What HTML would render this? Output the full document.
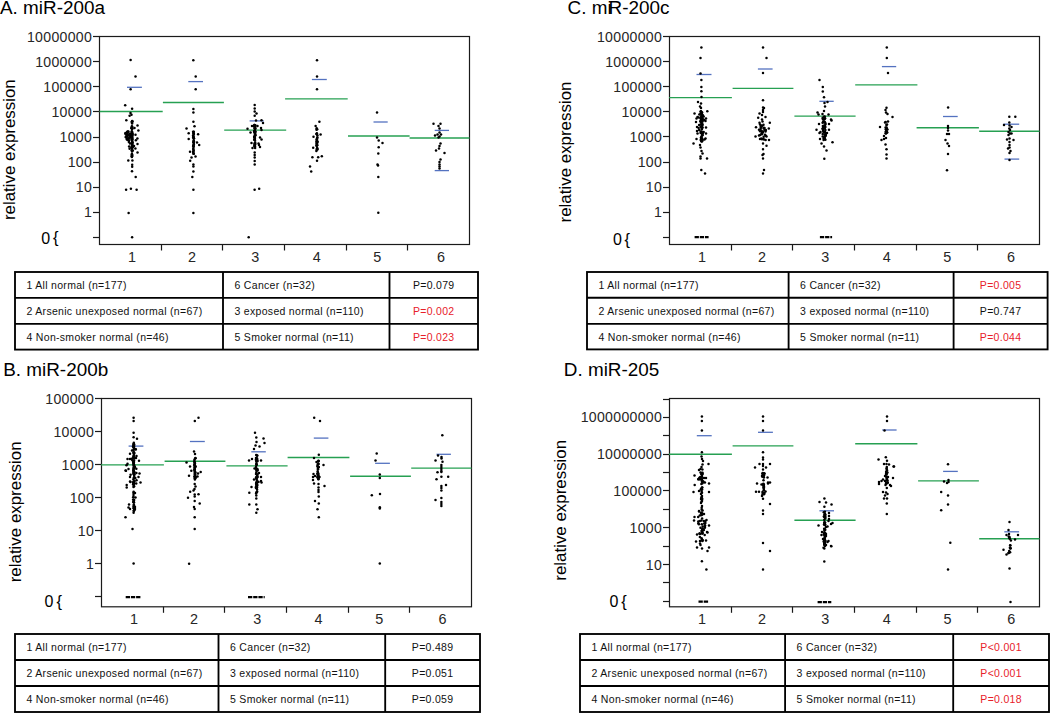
<!DOCTYPE html>
<html><head><meta charset="utf-8"><style>
html,body{margin:0;padding:0;background:#fff;}
svg{display:block;font-family:"Liberation Sans", sans-serif;}
</style></head><body>
<svg width="1050" height="713" viewBox="0 0 1050 713">
<rect width="1050" height="713" fill="#fff"/>
<text x="0" y="14.3" font-size="18.9" fill="#000">A. miR-200a</text>
<text transform="translate(15.1,149.65) rotate(-90)" text-anchor="middle" font-size="16.9" fill="#000">relative expression</text>
<rect x="99.5" y="36.5" width="370.0" height="208.0" fill="none" stroke="#1a1a1a" stroke-width="1.2"/>
<line x1="93.0" y1="212.50" x2="99.5" y2="212.50" stroke="#1a1a1a" stroke-width="1.2"/>
<text x="92.1" y="217.40" text-anchor="end" font-size="14.1" letter-spacing="0.3" fill="#262626">1</text>
<line x1="93.0" y1="187.50" x2="99.5" y2="187.50" stroke="#1a1a1a" stroke-width="1.2"/>
<text x="92.1" y="192.30" text-anchor="end" font-size="14.1" letter-spacing="0.3" fill="#262626">10</text>
<line x1="93.0" y1="162.50" x2="99.5" y2="162.50" stroke="#1a1a1a" stroke-width="1.2"/>
<text x="92.1" y="167.20" text-anchor="end" font-size="14.1" letter-spacing="0.3" fill="#262626">100</text>
<line x1="93.0" y1="137.50" x2="99.5" y2="137.50" stroke="#1a1a1a" stroke-width="1.2"/>
<text x="92.1" y="142.10" text-anchor="end" font-size="14.1" letter-spacing="0.3" fill="#262626">1000</text>
<line x1="93.0" y1="111.50" x2="99.5" y2="111.50" stroke="#1a1a1a" stroke-width="1.2"/>
<text x="92.1" y="117.00" text-anchor="end" font-size="14.1" letter-spacing="0.3" fill="#262626">10000</text>
<line x1="93.0" y1="86.50" x2="99.5" y2="86.50" stroke="#1a1a1a" stroke-width="1.2"/>
<text x="92.1" y="91.90" text-anchor="end" font-size="14.1" letter-spacing="0.3" fill="#262626">100000</text>
<line x1="93.0" y1="61.50" x2="99.5" y2="61.50" stroke="#1a1a1a" stroke-width="1.2"/>
<text x="92.1" y="66.80" text-anchor="end" font-size="14.1" letter-spacing="0.3" fill="#262626">1000000</text>
<line x1="93.0" y1="36.50" x2="99.5" y2="36.50" stroke="#1a1a1a" stroke-width="1.2"/>
<text x="92.1" y="41.70" text-anchor="end" font-size="14.1" letter-spacing="0.3" fill="#262626">10000000</text>
<line x1="93.0" y1="237.50" x2="99.5" y2="237.50" stroke="#1a1a1a" stroke-width="1.2"/>
<text x="41.20" y="243.6" font-size="16" fill="#000">0</text>
<text x="53.10" y="243.1" font-size="16.5" fill="#000">{</text>
<line x1="161.50" y1="244.5" x2="161.50" y2="250.5" stroke="#1a1a1a" stroke-width="1.2"/>
<line x1="222.50" y1="244.5" x2="222.50" y2="250.5" stroke="#1a1a1a" stroke-width="1.2"/>
<line x1="284.50" y1="244.5" x2="284.50" y2="250.5" stroke="#1a1a1a" stroke-width="1.2"/>
<line x1="346.50" y1="244.5" x2="346.50" y2="250.5" stroke="#1a1a1a" stroke-width="1.2"/>
<line x1="407.50" y1="244.5" x2="407.50" y2="250.5" stroke="#1a1a1a" stroke-width="1.2"/>
<text x="132.00" y="261.50" text-anchor="middle" font-size="14.4" fill="#262626">1</text>
<text x="192.10" y="261.50" text-anchor="middle" font-size="14.4" fill="#262626">2</text>
<text x="255.20" y="261.50" text-anchor="middle" font-size="14.4" fill="#262626">3</text>
<text x="316.80" y="261.50" text-anchor="middle" font-size="14.4" fill="#262626">4</text>
<text x="377.20" y="261.50" text-anchor="middle" font-size="14.4" fill="#262626">5</text>
<text x="440.90" y="261.50" text-anchor="middle" font-size="14.4" fill="#262626">6</text>
<text x="567.6" y="14.3" font-size="18.9" fill="#000">C. m<tspan>i</tspan><tspan dx="-3.2">R-200c</tspan></text>
<text transform="translate(570.7,152.0) rotate(-90)" text-anchor="middle" font-size="16.9" fill="#000">relative expression</text>
<rect x="669.5" y="36.5" width="370.0" height="208.0" fill="none" stroke="#1a1a1a" stroke-width="1.2"/>
<line x1="663.0" y1="212.50" x2="669.5" y2="212.50" stroke="#1a1a1a" stroke-width="1.2"/>
<text x="662.1" y="217.30" text-anchor="end" font-size="14.1" letter-spacing="0.3" fill="#262626">1</text>
<line x1="663.0" y1="187.50" x2="669.5" y2="187.50" stroke="#1a1a1a" stroke-width="1.2"/>
<text x="662.1" y="192.20" text-anchor="end" font-size="14.1" letter-spacing="0.3" fill="#262626">10</text>
<line x1="663.0" y1="162.50" x2="669.5" y2="162.50" stroke="#1a1a1a" stroke-width="1.2"/>
<text x="662.1" y="167.10" text-anchor="end" font-size="14.1" letter-spacing="0.3" fill="#262626">100</text>
<line x1="663.0" y1="136.50" x2="669.5" y2="136.50" stroke="#1a1a1a" stroke-width="1.2"/>
<text x="662.1" y="142.00" text-anchor="end" font-size="14.1" letter-spacing="0.3" fill="#262626">1000</text>
<line x1="663.0" y1="111.50" x2="669.5" y2="111.50" stroke="#1a1a1a" stroke-width="1.2"/>
<text x="662.1" y="116.90" text-anchor="end" font-size="14.1" letter-spacing="0.3" fill="#262626">10000</text>
<line x1="663.0" y1="86.50" x2="669.5" y2="86.50" stroke="#1a1a1a" stroke-width="1.2"/>
<text x="662.1" y="91.80" text-anchor="end" font-size="14.1" letter-spacing="0.3" fill="#262626">100000</text>
<line x1="663.0" y1="61.50" x2="669.5" y2="61.50" stroke="#1a1a1a" stroke-width="1.2"/>
<text x="662.1" y="66.70" text-anchor="end" font-size="14.1" letter-spacing="0.3" fill="#262626">1000000</text>
<line x1="663.0" y1="36.50" x2="669.5" y2="36.50" stroke="#1a1a1a" stroke-width="1.2"/>
<text x="662.1" y="41.60" text-anchor="end" font-size="14.1" letter-spacing="0.3" fill="#262626">10000000</text>
<line x1="663.0" y1="237.50" x2="669.5" y2="237.50" stroke="#1a1a1a" stroke-width="1.2"/>
<text x="613.00" y="245.4" font-size="16" fill="#000">0</text>
<text x="624.60" y="244.9" font-size="16.5" fill="#000">{</text>
<line x1="731.50" y1="244.5" x2="731.50" y2="250.5" stroke="#1a1a1a" stroke-width="1.2"/>
<line x1="792.50" y1="244.5" x2="792.50" y2="250.5" stroke="#1a1a1a" stroke-width="1.2"/>
<line x1="854.50" y1="244.5" x2="854.50" y2="250.5" stroke="#1a1a1a" stroke-width="1.2"/>
<line x1="916.50" y1="244.5" x2="916.50" y2="250.5" stroke="#1a1a1a" stroke-width="1.2"/>
<line x1="977.50" y1="244.5" x2="977.50" y2="250.5" stroke="#1a1a1a" stroke-width="1.2"/>
<text x="702.00" y="261.50" text-anchor="middle" font-size="14.4" fill="#262626">1</text>
<text x="762.10" y="261.50" text-anchor="middle" font-size="14.4" fill="#262626">2</text>
<text x="825.20" y="261.50" text-anchor="middle" font-size="14.4" fill="#262626">3</text>
<text x="886.80" y="261.50" text-anchor="middle" font-size="14.4" fill="#262626">4</text>
<text x="947.30" y="261.50" text-anchor="middle" font-size="14.4" fill="#262626">5</text>
<text x="1011.10" y="261.50" text-anchor="middle" font-size="14.4" fill="#262626">6</text>
<text x="3.2" y="376.0" font-size="18.9" fill="#000">B. miR-200b</text>
<text transform="translate(20.9,511.85) rotate(-90)" text-anchor="middle" font-size="16.9" fill="#000">relative expression</text>
<rect x="101.5" y="398.5" width="370.0" height="208.29999999999995" fill="none" stroke="#1a1a1a" stroke-width="1.2"/>
<line x1="95.0" y1="563.50" x2="101.5" y2="563.50" stroke="#1a1a1a" stroke-width="1.2"/>
<text x="94.1" y="568.80" text-anchor="end" font-size="14.1" letter-spacing="0.3" fill="#262626">1</text>
<line x1="95.0" y1="530.50" x2="101.5" y2="530.50" stroke="#1a1a1a" stroke-width="1.2"/>
<text x="94.1" y="535.75" text-anchor="end" font-size="14.1" letter-spacing="0.3" fill="#262626">10</text>
<line x1="95.0" y1="497.50" x2="101.5" y2="497.50" stroke="#1a1a1a" stroke-width="1.2"/>
<text x="94.1" y="502.70" text-anchor="end" font-size="14.1" letter-spacing="0.3" fill="#262626">100</text>
<line x1="95.0" y1="464.50" x2="101.5" y2="464.50" stroke="#1a1a1a" stroke-width="1.2"/>
<text x="94.1" y="469.65" text-anchor="end" font-size="14.1" letter-spacing="0.3" fill="#262626">1000</text>
<line x1="95.0" y1="431.50" x2="101.5" y2="431.50" stroke="#1a1a1a" stroke-width="1.2"/>
<text x="94.1" y="436.60" text-anchor="end" font-size="14.1" letter-spacing="0.3" fill="#262626">10000</text>
<line x1="95.0" y1="398.50" x2="101.5" y2="398.50" stroke="#1a1a1a" stroke-width="1.2"/>
<text x="94.1" y="403.55" text-anchor="end" font-size="14.1" letter-spacing="0.3" fill="#262626">100000</text>
<line x1="95.0" y1="596.50" x2="101.5" y2="596.50" stroke="#1a1a1a" stroke-width="1.2"/>
<text x="44.60" y="607.4" font-size="16" fill="#000">0</text>
<text x="56.40" y="606.9" font-size="16.5" fill="#000">{</text>
<line x1="163.50" y1="606.8" x2="163.50" y2="612.8" stroke="#1a1a1a" stroke-width="1.2"/>
<line x1="224.50" y1="606.8" x2="224.50" y2="612.8" stroke="#1a1a1a" stroke-width="1.2"/>
<line x1="286.50" y1="606.8" x2="286.50" y2="612.8" stroke="#1a1a1a" stroke-width="1.2"/>
<line x1="348.50" y1="606.8" x2="348.50" y2="612.8" stroke="#1a1a1a" stroke-width="1.2"/>
<line x1="409.50" y1="606.8" x2="409.50" y2="612.8" stroke="#1a1a1a" stroke-width="1.2"/>
<text x="133.90" y="624.00" text-anchor="middle" font-size="14.4" fill="#262626">1</text>
<text x="194.10" y="624.00" text-anchor="middle" font-size="14.4" fill="#262626">2</text>
<text x="257.30" y="624.00" text-anchor="middle" font-size="14.4" fill="#262626">3</text>
<text x="318.60" y="624.00" text-anchor="middle" font-size="14.4" fill="#262626">4</text>
<text x="379.20" y="624.00" text-anchor="middle" font-size="14.4" fill="#262626">5</text>
<text x="442.40" y="624.00" text-anchor="middle" font-size="14.4" fill="#262626">6</text>
<text x="563.8" y="375.6" font-size="18.9" fill="#000">D. miR-205</text>
<text transform="translate(565.7,510.3) rotate(-90)" text-anchor="middle" font-size="16.9" fill="#000">relative expression</text>
<rect x="669.5" y="398.5" width="370.0" height="208.29999999999995" fill="none" stroke="#1a1a1a" stroke-width="1.2"/>
<line x1="663.0" y1="582.50" x2="669.5" y2="582.50" stroke="#1a1a1a" stroke-width="1.2"/>
<line x1="663.0" y1="564.50" x2="669.5" y2="564.50" stroke="#1a1a1a" stroke-width="1.2"/>
<text x="662.1" y="569.61" text-anchor="end" font-size="14.1" letter-spacing="0.3" fill="#262626">10</text>
<line x1="663.0" y1="546.50" x2="669.5" y2="546.50" stroke="#1a1a1a" stroke-width="1.2"/>
<line x1="663.0" y1="527.50" x2="669.5" y2="527.50" stroke="#1a1a1a" stroke-width="1.2"/>
<text x="662.1" y="532.83" text-anchor="end" font-size="14.1" letter-spacing="0.3" fill="#262626">1000</text>
<line x1="663.0" y1="509.50" x2="669.5" y2="509.50" stroke="#1a1a1a" stroke-width="1.2"/>
<line x1="663.0" y1="490.50" x2="669.5" y2="490.50" stroke="#1a1a1a" stroke-width="1.2"/>
<text x="662.1" y="496.05" text-anchor="end" font-size="14.1" letter-spacing="0.3" fill="#262626">100000</text>
<line x1="663.0" y1="472.50" x2="669.5" y2="472.50" stroke="#1a1a1a" stroke-width="1.2"/>
<line x1="663.0" y1="454.50" x2="669.5" y2="454.50" stroke="#1a1a1a" stroke-width="1.2"/>
<text x="662.1" y="459.27" text-anchor="end" font-size="14.1" letter-spacing="0.3" fill="#262626">10000000</text>
<line x1="663.0" y1="435.50" x2="669.5" y2="435.50" stroke="#1a1a1a" stroke-width="1.2"/>
<line x1="663.0" y1="417.50" x2="669.5" y2="417.50" stroke="#1a1a1a" stroke-width="1.2"/>
<text x="662.1" y="422.49" text-anchor="end" font-size="14.1" letter-spacing="0.3" fill="#262626">1000000000</text>
<line x1="663.0" y1="399.50" x2="669.5" y2="399.50" stroke="#1a1a1a" stroke-width="1.2"/>
<line x1="663.0" y1="601.50" x2="669.5" y2="601.50" stroke="#1a1a1a" stroke-width="1.2"/>
<text x="609.40" y="607.4" font-size="16" fill="#000">0</text>
<text x="621.20" y="606.9" font-size="16.5" fill="#000">{</text>
<line x1="731.50" y1="606.8" x2="731.50" y2="612.8" stroke="#1a1a1a" stroke-width="1.2"/>
<line x1="792.50" y1="606.8" x2="792.50" y2="612.8" stroke="#1a1a1a" stroke-width="1.2"/>
<line x1="854.50" y1="606.8" x2="854.50" y2="612.8" stroke="#1a1a1a" stroke-width="1.2"/>
<line x1="916.50" y1="606.8" x2="916.50" y2="612.8" stroke="#1a1a1a" stroke-width="1.2"/>
<line x1="977.50" y1="606.8" x2="977.50" y2="612.8" stroke="#1a1a1a" stroke-width="1.2"/>
<text x="702.00" y="624.00" text-anchor="middle" font-size="14.4" fill="#262626">1</text>
<text x="762.10" y="624.00" text-anchor="middle" font-size="14.4" fill="#262626">2</text>
<text x="825.30" y="624.00" text-anchor="middle" font-size="14.4" fill="#262626">3</text>
<text x="886.80" y="624.00" text-anchor="middle" font-size="14.4" fill="#262626">4</text>
<text x="947.40" y="624.00" text-anchor="middle" font-size="14.4" fill="#262626">5</text>
<text x="1011.20" y="624.00" text-anchor="middle" font-size="14.4" fill="#262626">6</text>
<rect x="15.0" y="272.0" width="463.00" height="77.60" fill="none" stroke="#000" stroke-width="1.85"/>
<line x1="15.0" y1="297.8" x2="478.0" y2="297.8" stroke="#000" stroke-width="1.85"/>
<line x1="15.0" y1="323.9" x2="478.0" y2="323.9" stroke="#000" stroke-width="1.85"/>
<line x1="223.0" y1="272.0" x2="223.0" y2="349.6" stroke="#000" stroke-width="1.85"/>
<line x1="389.5" y1="272.0" x2="389.5" y2="349.6" stroke="#000" stroke-width="1.85"/>
<text x="26.5" y="289.20" font-size="10.5" letter-spacing="0.3" fill="#111">1 All normal (n=177)</text>
<text x="234.5" y="289.20" font-size="10.5" letter-spacing="0.3" fill="#111">6 Cancer (n=32)</text>
<text x="433.75" y="289.20" text-anchor="middle" font-size="10.5" letter-spacing="0.3" fill="#111">P=0.079</text>
<text x="26.5" y="315.00" font-size="10.5" letter-spacing="0.3" fill="#111">2 Arsenic unexposed normal (n=67)</text>
<text x="234.5" y="315.00" font-size="10.5" letter-spacing="0.3" fill="#111">3 exposed normal (n=110)</text>
<text x="433.75" y="315.00" text-anchor="middle" font-size="10.5" letter-spacing="0.3" fill="#e8202a">P=0.002</text>
<text x="26.5" y="341.10" font-size="10.5" letter-spacing="0.3" fill="#111">4 Non-smoker normal (n=46)</text>
<text x="234.5" y="341.10" font-size="10.5" letter-spacing="0.3" fill="#111">5 Smoker normal (n=11)</text>
<text x="433.75" y="341.10" text-anchor="middle" font-size="10.5" letter-spacing="0.3" fill="#e8202a">P=0.023</text>
<rect x="587.0" y="272.0" width="460.60" height="77.40" fill="none" stroke="#000" stroke-width="1.85"/>
<line x1="587.0" y1="297.7" x2="1047.6" y2="297.7" stroke="#000" stroke-width="1.85"/>
<line x1="587.0" y1="323.8" x2="1047.6" y2="323.8" stroke="#000" stroke-width="1.85"/>
<line x1="788.6" y1="272.0" x2="788.6" y2="349.4" stroke="#000" stroke-width="1.85"/>
<line x1="953.6" y1="272.0" x2="953.6" y2="349.4" stroke="#000" stroke-width="1.85"/>
<text x="598.5" y="289.20" font-size="10.5" letter-spacing="0.3" fill="#111">1 All normal (n=177)</text>
<text x="800.1" y="289.20" font-size="10.5" letter-spacing="0.3" fill="#111">6 Cancer (n=32)</text>
<text x="1000.60" y="289.20" text-anchor="middle" font-size="10.5" letter-spacing="0.3" fill="#e8202a">P=0.005</text>
<text x="598.5" y="314.90" font-size="10.5" letter-spacing="0.3" fill="#111">2 Arsenic unexposed normal (n=67)</text>
<text x="800.1" y="314.90" font-size="10.5" letter-spacing="0.3" fill="#111">3 exposed normal (n=110)</text>
<text x="1000.60" y="314.90" text-anchor="middle" font-size="10.5" letter-spacing="0.3" fill="#111">P=0.747</text>
<text x="598.5" y="341.00" font-size="10.5" letter-spacing="0.3" fill="#111">4 Non-smoker normal (n=46)</text>
<text x="800.1" y="341.00" font-size="10.5" letter-spacing="0.3" fill="#111">5 Smoker normal (n=11)</text>
<text x="1000.60" y="341.00" text-anchor="middle" font-size="10.5" letter-spacing="0.3" fill="#e8202a">P=0.044</text>
<rect x="15.0" y="634.0" width="465.00" height="78.00" fill="none" stroke="#000" stroke-width="1.85"/>
<line x1="15.0" y1="660.0" x2="480.0" y2="660.0" stroke="#000" stroke-width="1.85"/>
<line x1="15.0" y1="686.0" x2="480.0" y2="686.0" stroke="#000" stroke-width="1.85"/>
<line x1="218.5" y1="634.0" x2="218.5" y2="712.0" stroke="#000" stroke-width="1.85"/>
<line x1="385.2" y1="634.0" x2="385.2" y2="712.0" stroke="#000" stroke-width="1.85"/>
<text x="26.5" y="651.20" font-size="10.5" letter-spacing="0.3" fill="#111">1 All normal (n=177)</text>
<text x="230.0" y="651.20" font-size="10.5" letter-spacing="0.3" fill="#111">6 Cancer (n=32)</text>
<text x="432.60" y="651.20" text-anchor="middle" font-size="10.5" letter-spacing="0.3" fill="#111">P=0.489</text>
<text x="26.5" y="677.20" font-size="10.5" letter-spacing="0.3" fill="#111">2 Arsenic unexposed normal (n=67)</text>
<text x="230.0" y="677.20" font-size="10.5" letter-spacing="0.3" fill="#111">3 exposed normal (n=110)</text>
<text x="432.60" y="677.20" text-anchor="middle" font-size="10.5" letter-spacing="0.3" fill="#111">P=0.051</text>
<text x="26.5" y="703.20" font-size="10.5" letter-spacing="0.3" fill="#111">4 Non-smoker normal (n=46)</text>
<text x="230.0" y="703.20" font-size="10.5" letter-spacing="0.3" fill="#111">5 Smoker normal (n=11)</text>
<text x="432.60" y="703.20" text-anchor="middle" font-size="10.5" letter-spacing="0.3" fill="#111">P=0.059</text>
<rect x="580.0" y="634.0" width="469.00" height="78.00" fill="none" stroke="#000" stroke-width="1.85"/>
<line x1="580.0" y1="660.0" x2="1049.0" y2="660.0" stroke="#000" stroke-width="1.85"/>
<line x1="580.0" y1="686.0" x2="1049.0" y2="686.0" stroke="#000" stroke-width="1.85"/>
<line x1="785.1" y1="634.0" x2="785.1" y2="712.0" stroke="#000" stroke-width="1.85"/>
<line x1="953.2" y1="634.0" x2="953.2" y2="712.0" stroke="#000" stroke-width="1.85"/>
<text x="591.5" y="651.20" font-size="10.5" letter-spacing="0.3" fill="#111">1 All normal (n=177)</text>
<text x="796.6" y="651.20" font-size="10.5" letter-spacing="0.3" fill="#111">6 Cancer (n=32)</text>
<text x="1001.10" y="651.20" text-anchor="middle" font-size="10.5" letter-spacing="0.3" fill="#e8202a">P<0.001</text>
<text x="591.5" y="677.20" font-size="10.5" letter-spacing="0.3" fill="#111">2 Arsenic unexposed normal (n=67)</text>
<text x="796.6" y="677.20" font-size="10.5" letter-spacing="0.3" fill="#111">3 exposed normal (n=110)</text>
<text x="1001.10" y="677.20" text-anchor="middle" font-size="10.5" letter-spacing="0.3" fill="#e8202a">P<0.001</text>
<text x="591.5" y="703.20" font-size="10.5" letter-spacing="0.3" fill="#111">4 Non-smoker normal (n=46)</text>
<text x="796.6" y="703.20" font-size="10.5" letter-spacing="0.3" fill="#111">5 Smoker normal (n=11)</text>
<text x="1001.10" y="703.20" text-anchor="middle" font-size="10.5" letter-spacing="0.3" fill="#e8202a">P=0.018</text>
<line x1="99.5" y1="111.5" x2="162.7" y2="111.5" stroke="#26a052" stroke-width="1.4"/>
<line x1="162.9" y1="102.5" x2="223.9" y2="102.5" stroke="#26a052" stroke-width="1.4"/>
<line x1="224.2" y1="130.1" x2="286.2" y2="130.1" stroke="#26a052" stroke-width="1.4"/>
<line x1="285.1" y1="98.9" x2="347.7" y2="98.9" stroke="#26a052" stroke-width="1.4"/>
<line x1="348" y1="136" x2="409.6" y2="136" stroke="#26a052" stroke-width="1.4"/>
<line x1="409.6" y1="138" x2="469.5" y2="138" stroke="#26a052" stroke-width="1.4"/>
<line x1="127" y1="87.3" x2="141.9" y2="87.3" stroke="#5472c0" stroke-width="1.3"/>
<line x1="188.3" y1="81.6" x2="203" y2="81.6" stroke="#5472c0" stroke-width="1.3"/>
<line x1="249.6" y1="120.9" x2="263.8" y2="120.9" stroke="#5472c0" stroke-width="1.3"/>
<line x1="311.9" y1="79.5" x2="326.8" y2="79.5" stroke="#5472c0" stroke-width="1.3"/>
<line x1="373.5" y1="122" x2="387.7" y2="122" stroke="#5472c0" stroke-width="1.3"/>
<line x1="434.7" y1="130.4" x2="449" y2="130.4" stroke="#5472c0" stroke-width="1.3"/>
<line x1="434.7" y1="170.6" x2="449" y2="170.6" stroke="#5472c0" stroke-width="1.3"/>
<circle cx="130.6" cy="60.1" r="1.25"/>
<circle cx="135.5" cy="76.5" r="1.25"/>
<circle cx="130.6" cy="89.3" r="1.25"/>
<circle cx="125.2" cy="105.2" r="1.25"/>
<circle cx="132.1" cy="108.7" r="1.25"/>
<circle cx="130.5" cy="112.9" r="1.25"/>
<circle cx="131.5" cy="114.8" r="1.25"/>
<circle cx="129.6" cy="115.8" r="1.25"/>
<circle cx="126.3" cy="120.3" r="1.25"/>
<circle cx="131.8" cy="147.3" r="1.25"/>
<circle cx="132.2" cy="128.9" r="1.25"/>
<circle cx="132.0" cy="134.9" r="1.25"/>
<circle cx="132.1" cy="145.5" r="1.25"/>
<circle cx="131.8" cy="121.9" r="1.25"/>
<circle cx="132.2" cy="134.4" r="1.25"/>
<circle cx="132.2" cy="121.1" r="1.25"/>
<circle cx="132.0" cy="143.4" r="1.25"/>
<circle cx="131.8" cy="150.3" r="1.25"/>
<circle cx="132.2" cy="121.9" r="1.25"/>
<circle cx="131.7" cy="137.8" r="1.25"/>
<circle cx="132.3" cy="132.8" r="1.25"/>
<circle cx="131.8" cy="134.1" r="1.25"/>
<circle cx="131.7" cy="127.9" r="1.25"/>
<circle cx="132.0" cy="136.4" r="1.25"/>
<circle cx="131.8" cy="128.2" r="1.25"/>
<circle cx="131.8" cy="135.2" r="1.25"/>
<circle cx="131.9" cy="121.7" r="1.25"/>
<circle cx="132.2" cy="138.3" r="1.25"/>
<circle cx="132.1" cy="126.8" r="1.25"/>
<circle cx="132.3" cy="147.7" r="1.25"/>
<circle cx="131.8" cy="131.3" r="1.25"/>
<circle cx="132.1" cy="143.0" r="1.25"/>
<circle cx="132.3" cy="134.1" r="1.25"/>
<circle cx="132.2" cy="141.8" r="1.25"/>
<circle cx="131.9" cy="139.2" r="1.25"/>
<circle cx="132.2" cy="147.2" r="1.25"/>
<circle cx="132.0" cy="139.3" r="1.25"/>
<circle cx="131.7" cy="128.5" r="1.25"/>
<circle cx="132.2" cy="133.8" r="1.25"/>
<circle cx="131.8" cy="138.0" r="1.25"/>
<circle cx="132.1" cy="141.9" r="1.25"/>
<circle cx="131.9" cy="134.6" r="1.25"/>
<circle cx="132.0" cy="145.1" r="1.25"/>
<circle cx="132.0" cy="133.2" r="1.25"/>
<circle cx="132.0" cy="121.9" r="1.25"/>
<circle cx="131.7" cy="142.8" r="1.25"/>
<circle cx="132.3" cy="139.4" r="1.25"/>
<circle cx="131.9" cy="126.3" r="1.25"/>
<circle cx="132.0" cy="151.4" r="1.25"/>
<circle cx="132.2" cy="137.7" r="1.25"/>
<circle cx="132.2" cy="128.2" r="1.25"/>
<circle cx="132.0" cy="150.5" r="1.25"/>
<circle cx="132.0" cy="135.2" r="1.25"/>
<circle cx="131.9" cy="138.0" r="1.25"/>
<circle cx="132.3" cy="121.2" r="1.25"/>
<circle cx="132.2" cy="146.4" r="1.25"/>
<circle cx="132.2" cy="144.0" r="1.25"/>
<circle cx="132.2" cy="137.1" r="1.25"/>
<circle cx="132.0" cy="134.2" r="1.25"/>
<circle cx="131.7" cy="148.0" r="1.25"/>
<circle cx="132.0" cy="127.2" r="1.25"/>
<circle cx="132.0" cy="136.0" r="1.25"/>
<circle cx="131.9" cy="131.7" r="1.25"/>
<circle cx="132.0" cy="140.3" r="1.25"/>
<circle cx="132.1" cy="135.2" r="1.25"/>
<circle cx="131.7" cy="128.1" r="1.25"/>
<circle cx="131.8" cy="139.1" r="1.25"/>
<circle cx="132.2" cy="145.8" r="1.25"/>
<circle cx="132.2" cy="146.3" r="1.25"/>
<circle cx="131.9" cy="147.1" r="1.25"/>
<circle cx="132.1" cy="123.6" r="1.25"/>
<circle cx="131.9" cy="154.1" r="1.25"/>
<circle cx="132.1" cy="155.2" r="1.25"/>
<circle cx="131.9" cy="157.1" r="1.25"/>
<circle cx="132.0" cy="154.3" r="1.25"/>
<circle cx="131.9" cy="156.6" r="1.25"/>
<circle cx="131.9" cy="155.4" r="1.25"/>
<circle cx="132.0" cy="156.3" r="1.25"/>
<circle cx="127.0" cy="134.7" r="1.25"/>
<circle cx="125.3" cy="133.8" r="1.25"/>
<circle cx="127.6" cy="131.8" r="1.25"/>
<circle cx="128.1" cy="132.0" r="1.25"/>
<circle cx="128.6" cy="138.3" r="1.25"/>
<circle cx="126.0" cy="137.3" r="1.25"/>
<circle cx="126.1" cy="137.1" r="1.25"/>
<circle cx="129.0" cy="135.5" r="1.25"/>
<circle cx="129.7" cy="135.2" r="1.25"/>
<circle cx="126.4" cy="136.5" r="1.25"/>
<circle cx="127.4" cy="135.8" r="1.25"/>
<circle cx="127.0" cy="136.4" r="1.25"/>
<circle cx="125.5" cy="132.9" r="1.25"/>
<circle cx="126.9" cy="138.7" r="1.25"/>
<circle cx="126.9" cy="139.6" r="1.25"/>
<circle cx="129.4" cy="134.1" r="1.25"/>
<circle cx="128.4" cy="131.6" r="1.25"/>
<circle cx="129.1" cy="135.1" r="1.25"/>
<circle cx="127.3" cy="133.4" r="1.25"/>
<circle cx="126.4" cy="136.8" r="1.25"/>
<circle cx="127.6" cy="131.8" r="1.25"/>
<circle cx="125.8" cy="136.7" r="1.25"/>
<circle cx="126.9" cy="135.0" r="1.25"/>
<circle cx="127.0" cy="138.9" r="1.25"/>
<circle cx="126.3" cy="133.2" r="1.25"/>
<circle cx="127.1" cy="132.0" r="1.25"/>
<circle cx="129.0" cy="138.5" r="1.25"/>
<circle cx="130.4" cy="133.4" r="1.25"/>
<circle cx="130.1" cy="136.9" r="1.25"/>
<circle cx="127.9" cy="140.0" r="1.25"/>
<circle cx="129.6" cy="148.7" r="1.25"/>
<circle cx="128.9" cy="142.0" r="1.25"/>
<circle cx="132.6" cy="142.6" r="1.25"/>
<circle cx="131.9" cy="147.2" r="1.25"/>
<circle cx="132.3" cy="144.4" r="1.25"/>
<circle cx="130.0" cy="143.5" r="1.25"/>
<circle cx="132.4" cy="147.2" r="1.25"/>
<circle cx="132.8" cy="150.6" r="1.25"/>
<circle cx="129.1" cy="146.6" r="1.25"/>
<circle cx="129.0" cy="140.5" r="1.25"/>
<circle cx="137.5" cy="125.5" r="1.25"/>
<circle cx="138.4" cy="130.5" r="1.25"/>
<circle cx="135.5" cy="134.7" r="1.25"/>
<circle cx="137.4" cy="138.5" r="1.25"/>
<circle cx="135.9" cy="140.3" r="1.25"/>
<circle cx="137.5" cy="144.0" r="1.25"/>
<circle cx="135.4" cy="148.5" r="1.25"/>
<circle cx="137.5" cy="152.5" r="1.25"/>
<circle cx="134.5" cy="128.0" r="1.25"/>
<circle cx="134.0" cy="146.0" r="1.25"/>
<circle cx="128.3" cy="160.6" r="1.25"/>
<circle cx="132.4" cy="160.6" r="1.25"/>
<circle cx="132.2" cy="164.8" r="1.25"/>
<circle cx="132.2" cy="166.8" r="1.25"/>
<circle cx="132.0" cy="171.3" r="1.25"/>
<circle cx="135.7" cy="177.1" r="1.25"/>
<circle cx="126.1" cy="189.8" r="1.25"/>
<circle cx="130.9" cy="188.7" r="1.25"/>
<circle cx="136.6" cy="189.8" r="1.25"/>
<circle cx="128.6" cy="212.9" r="1.25"/>
<circle cx="132.1" cy="237.3" r="1.25"/>
<circle cx="193.3" cy="60.2" r="1.25"/>
<circle cx="195.7" cy="76.5" r="1.25"/>
<circle cx="195.7" cy="89.2" r="1.25"/>
<circle cx="193.4" cy="108.9" r="1.25"/>
<circle cx="193.4" cy="112.4" r="1.25"/>
<circle cx="193.4" cy="121.8" r="1.25"/>
<circle cx="194.5" cy="126.2" r="1.25"/>
<circle cx="186.5" cy="128.5" r="1.25"/>
<circle cx="188.7" cy="133.2" r="1.25"/>
<circle cx="198.1" cy="134.3" r="1.25"/>
<circle cx="188.7" cy="139.0" r="1.25"/>
<circle cx="193.2" cy="151.4" r="1.25"/>
<circle cx="193.7" cy="150.6" r="1.25"/>
<circle cx="193.4" cy="145.6" r="1.25"/>
<circle cx="193.7" cy="140.2" r="1.25"/>
<circle cx="193.6" cy="136.6" r="1.25"/>
<circle cx="193.2" cy="137.6" r="1.25"/>
<circle cx="193.8" cy="144.5" r="1.25"/>
<circle cx="193.8" cy="142.0" r="1.25"/>
<circle cx="193.3" cy="149.6" r="1.25"/>
<circle cx="193.8" cy="131.8" r="1.25"/>
<circle cx="193.6" cy="133.6" r="1.25"/>
<circle cx="193.2" cy="151.9" r="1.25"/>
<circle cx="193.1" cy="137.0" r="1.25"/>
<circle cx="193.9" cy="141.2" r="1.25"/>
<circle cx="193.2" cy="135.3" r="1.25"/>
<circle cx="193.3" cy="148.6" r="1.25"/>
<circle cx="193.2" cy="152.4" r="1.25"/>
<circle cx="193.4" cy="153.8" r="1.25"/>
<circle cx="193.8" cy="138.3" r="1.25"/>
<circle cx="193.3" cy="142.5" r="1.25"/>
<circle cx="193.2" cy="146.5" r="1.25"/>
<circle cx="193.1" cy="131.7" r="1.25"/>
<circle cx="193.9" cy="138.3" r="1.25"/>
<circle cx="193.6" cy="141.8" r="1.25"/>
<circle cx="193.4" cy="132.9" r="1.25"/>
<circle cx="193.8" cy="153.8" r="1.25"/>
<circle cx="193.9" cy="134.1" r="1.25"/>
<circle cx="193.3" cy="145.7" r="1.25"/>
<circle cx="193.9" cy="144.0" r="1.25"/>
<circle cx="193.7" cy="146.7" r="1.25"/>
<circle cx="197.0" cy="142.4" r="1.25"/>
<circle cx="199.2" cy="144.9" r="1.25"/>
<circle cx="190.0" cy="151.8" r="1.25"/>
<circle cx="195.5" cy="156.5" r="1.25"/>
<circle cx="191.5" cy="157.5" r="1.25"/>
<circle cx="190.2" cy="160.8" r="1.25"/>
<circle cx="193.4" cy="164.5" r="1.25"/>
<circle cx="193.4" cy="166.5" r="1.25"/>
<circle cx="193.4" cy="171.4" r="1.25"/>
<circle cx="192.3" cy="177.0" r="1.25"/>
<circle cx="193.4" cy="189.8" r="1.25"/>
<circle cx="193.4" cy="213.0" r="1.25"/>
<circle cx="254.7" cy="105.0" r="1.25"/>
<circle cx="254.7" cy="108.5" r="1.25"/>
<circle cx="254.7" cy="111.5" r="1.25"/>
<circle cx="256.5" cy="113.5" r="1.25"/>
<circle cx="254.7" cy="115.8" r="1.25"/>
<circle cx="256.0" cy="120.5" r="1.25"/>
<circle cx="261.5" cy="120.3" r="1.25"/>
<circle cx="263.0" cy="123.0" r="1.25"/>
<circle cx="254.4" cy="137.5" r="1.25"/>
<circle cx="254.5" cy="130.4" r="1.25"/>
<circle cx="254.2" cy="131.2" r="1.25"/>
<circle cx="255.4" cy="135.2" r="1.25"/>
<circle cx="254.9" cy="139.9" r="1.25"/>
<circle cx="255.3" cy="133.9" r="1.25"/>
<circle cx="254.5" cy="132.4" r="1.25"/>
<circle cx="254.5" cy="144.8" r="1.25"/>
<circle cx="255.3" cy="131.8" r="1.25"/>
<circle cx="254.5" cy="137.6" r="1.25"/>
<circle cx="254.9" cy="138.8" r="1.25"/>
<circle cx="254.4" cy="125.0" r="1.25"/>
<circle cx="254.4" cy="126.2" r="1.25"/>
<circle cx="254.8" cy="126.2" r="1.25"/>
<circle cx="254.2" cy="139.7" r="1.25"/>
<circle cx="254.5" cy="143.5" r="1.25"/>
<circle cx="254.7" cy="145.2" r="1.25"/>
<circle cx="254.3" cy="136.5" r="1.25"/>
<circle cx="255.1" cy="126.4" r="1.25"/>
<circle cx="255.3" cy="128.7" r="1.25"/>
<circle cx="255.1" cy="148.1" r="1.25"/>
<circle cx="255.2" cy="132.2" r="1.25"/>
<circle cx="254.2" cy="136.8" r="1.25"/>
<circle cx="255.3" cy="131.5" r="1.25"/>
<circle cx="255.3" cy="127.9" r="1.25"/>
<circle cx="255.3" cy="125.3" r="1.25"/>
<circle cx="254.5" cy="146.2" r="1.25"/>
<circle cx="255.1" cy="146.3" r="1.25"/>
<circle cx="255.2" cy="142.4" r="1.25"/>
<circle cx="255.0" cy="128.8" r="1.25"/>
<circle cx="254.7" cy="128.3" r="1.25"/>
<circle cx="255.0" cy="140.5" r="1.25"/>
<circle cx="254.4" cy="126.0" r="1.25"/>
<circle cx="255.4" cy="143.9" r="1.25"/>
<circle cx="254.8" cy="137.5" r="1.25"/>
<circle cx="255.2" cy="135.4" r="1.25"/>
<circle cx="254.6" cy="132.6" r="1.25"/>
<circle cx="254.4" cy="125.1" r="1.25"/>
<circle cx="254.9" cy="134.5" r="1.25"/>
<circle cx="254.8" cy="126.0" r="1.25"/>
<circle cx="254.6" cy="127.8" r="1.25"/>
<circle cx="247.5" cy="128.7" r="1.25"/>
<circle cx="250.5" cy="132.5" r="1.25"/>
<circle cx="251.5" cy="143.0" r="1.25"/>
<circle cx="252.5" cy="148.0" r="1.25"/>
<circle cx="261.0" cy="128.0" r="1.25"/>
<circle cx="261.5" cy="130.0" r="1.25"/>
<circle cx="260.0" cy="137.5" r="1.25"/>
<circle cx="261.5" cy="139.5" r="1.25"/>
<circle cx="258.5" cy="143.5" r="1.25"/>
<circle cx="259.0" cy="145.0" r="1.25"/>
<circle cx="260.0" cy="147.0" r="1.25"/>
<circle cx="257.5" cy="126.0" r="1.25"/>
<circle cx="252.0" cy="126.0" r="1.25"/>
<circle cx="254.7" cy="152.5" r="1.25"/>
<circle cx="254.7" cy="155.0" r="1.25"/>
<circle cx="254.7" cy="157.5" r="1.25"/>
<circle cx="254.7" cy="161.0" r="1.25"/>
<circle cx="254.7" cy="164.5" r="1.25"/>
<circle cx="254.6" cy="189.8" r="1.25"/>
<circle cx="259.2" cy="188.7" r="1.25"/>
<circle cx="248.7" cy="237.3" r="1.25"/>
<circle cx="317.0" cy="60.3" r="1.25"/>
<circle cx="317.0" cy="76.5" r="1.25"/>
<circle cx="317.0" cy="89.2" r="1.25"/>
<circle cx="319.4" cy="121.7" r="1.25"/>
<circle cx="315.6" cy="126.0" r="1.25"/>
<circle cx="316.5" cy="134.1" r="1.25"/>
<circle cx="317.3" cy="137.3" r="1.25"/>
<circle cx="316.8" cy="142.4" r="1.25"/>
<circle cx="316.7" cy="128.2" r="1.25"/>
<circle cx="317.0" cy="139.8" r="1.25"/>
<circle cx="317.1" cy="138.3" r="1.25"/>
<circle cx="317.2" cy="145.2" r="1.25"/>
<circle cx="316.7" cy="139.6" r="1.25"/>
<circle cx="316.9" cy="133.3" r="1.25"/>
<circle cx="316.9" cy="141.2" r="1.25"/>
<circle cx="317.4" cy="149.6" r="1.25"/>
<circle cx="316.7" cy="143.2" r="1.25"/>
<circle cx="316.5" cy="129.7" r="1.25"/>
<circle cx="317.0" cy="148.6" r="1.25"/>
<circle cx="316.6" cy="146.0" r="1.25"/>
<circle cx="317.4" cy="135.3" r="1.25"/>
<circle cx="317.2" cy="148.0" r="1.25"/>
<circle cx="316.8" cy="144.5" r="1.25"/>
<circle cx="317.2" cy="142.0" r="1.25"/>
<circle cx="317.3" cy="149.1" r="1.25"/>
<circle cx="317.5" cy="141.4" r="1.25"/>
<circle cx="316.6" cy="133.9" r="1.25"/>
<circle cx="316.6" cy="141.4" r="1.25"/>
<circle cx="317.2" cy="129.2" r="1.25"/>
<circle cx="317.1" cy="144.9" r="1.25"/>
<circle cx="316.8" cy="140.1" r="1.25"/>
<circle cx="316.6" cy="145.2" r="1.25"/>
<circle cx="316.4" cy="151.1" r="1.25"/>
<circle cx="317.3" cy="142.8" r="1.25"/>
<circle cx="316.7" cy="149.5" r="1.25"/>
<circle cx="320.6" cy="134.4" r="1.25"/>
<circle cx="313.5" cy="136.8" r="1.25"/>
<circle cx="313.2" cy="147.8" r="1.25"/>
<circle cx="312.4" cy="157.2" r="1.25"/>
<circle cx="318.2" cy="157.3" r="1.25"/>
<circle cx="321.8" cy="156.2" r="1.25"/>
<circle cx="317.0" cy="160.8" r="1.25"/>
<circle cx="310.0" cy="166.5" r="1.25"/>
<circle cx="311.2" cy="171.4" r="1.25"/>
<circle cx="377.0" cy="112.4" r="1.25"/>
<circle cx="377.0" cy="137.5" r="1.25"/>
<circle cx="378.7" cy="140.5" r="1.25"/>
<circle cx="382.5" cy="143.0" r="1.25"/>
<circle cx="378.7" cy="147.2" r="1.25"/>
<circle cx="378.3" cy="153.5" r="1.25"/>
<circle cx="377.5" cy="164.5" r="1.25"/>
<circle cx="378.0" cy="165.5" r="1.25"/>
<circle cx="378.3" cy="177.0" r="1.25"/>
<circle cx="378.3" cy="212.8" r="1.25"/>
<circle cx="433.5" cy="123.7" r="1.25"/>
<circle cx="440.5" cy="123.7" r="1.25"/>
<circle cx="438.5" cy="126.0" r="1.25"/>
<circle cx="439.5" cy="128.5" r="1.25"/>
<circle cx="439.5" cy="132.5" r="1.25"/>
<circle cx="435.0" cy="135.5" r="1.25"/>
<circle cx="437.5" cy="134.5" r="1.25"/>
<circle cx="441.0" cy="134.5" r="1.25"/>
<circle cx="439.5" cy="136.5" r="1.25"/>
<circle cx="438.5" cy="137.5" r="1.25"/>
<circle cx="440.5" cy="143.5" r="1.25"/>
<circle cx="439.5" cy="146.0" r="1.25"/>
<circle cx="439.0" cy="148.5" r="1.25"/>
<circle cx="436.0" cy="150.5" r="1.25"/>
<circle cx="444.5" cy="153.0" r="1.25"/>
<circle cx="440.5" cy="159.5" r="1.25"/>
<circle cx="439.5" cy="162.0" r="1.25"/>
<circle cx="439.5" cy="164.5" r="1.25"/>
<circle cx="439.5" cy="166.5" r="1.25"/>
<circle cx="439.5" cy="168.5" r="1.25"/>
<line x1="101" y1="464.9" x2="163.9" y2="464.9" stroke="#26a052" stroke-width="1.4"/>
<line x1="164.6" y1="461.3" x2="225.4" y2="461.3" stroke="#26a052" stroke-width="1.4"/>
<line x1="226.4" y1="465.9" x2="287.6" y2="465.9" stroke="#26a052" stroke-width="1.4"/>
<line x1="287.6" y1="457.5" x2="349.4" y2="457.5" stroke="#26a052" stroke-width="1.4"/>
<line x1="350.1" y1="476.2" x2="410.9" y2="476.2" stroke="#26a052" stroke-width="1.4"/>
<line x1="411.2" y1="468.1" x2="471.5" y2="468.1" stroke="#26a052" stroke-width="1.4"/>
<line x1="128.6" y1="446.1" x2="143.4" y2="446.1" stroke="#5472c0" stroke-width="1.3"/>
<line x1="189.9" y1="441.5" x2="204.8" y2="441.5" stroke="#5472c0" stroke-width="1.3"/>
<line x1="251.3" y1="451.8" x2="265.8" y2="451.8" stroke="#5472c0" stroke-width="1.3"/>
<line x1="313.8" y1="438.1" x2="328.4" y2="438.1" stroke="#5472c0" stroke-width="1.3"/>
<line x1="375.1" y1="463.3" x2="389.9" y2="463.3" stroke="#5472c0" stroke-width="1.3"/>
<line x1="436.5" y1="454.3" x2="450.9" y2="454.3" stroke="#5472c0" stroke-width="1.3"/>
<circle cx="133.6" cy="417.7" r="1.25"/>
<circle cx="133.6" cy="421.0" r="1.25"/>
<circle cx="133.6" cy="432.8" r="1.25"/>
<circle cx="133.6" cy="437.2" r="1.25"/>
<circle cx="137.0" cy="438.8" r="1.25"/>
<circle cx="133.4" cy="479.6" r="1.25"/>
<circle cx="133.5" cy="483.7" r="1.25"/>
<circle cx="133.9" cy="446.5" r="1.25"/>
<circle cx="133.1" cy="499.8" r="1.25"/>
<circle cx="133.4" cy="458.2" r="1.25"/>
<circle cx="134.3" cy="474.4" r="1.25"/>
<circle cx="134.1" cy="474.9" r="1.25"/>
<circle cx="133.9" cy="452.4" r="1.25"/>
<circle cx="133.9" cy="501.9" r="1.25"/>
<circle cx="133.7" cy="493.1" r="1.25"/>
<circle cx="133.9" cy="446.4" r="1.25"/>
<circle cx="134.0" cy="482.8" r="1.25"/>
<circle cx="133.5" cy="444.1" r="1.25"/>
<circle cx="134.1" cy="474.6" r="1.25"/>
<circle cx="134.0" cy="502.6" r="1.25"/>
<circle cx="134.0" cy="505.6" r="1.25"/>
<circle cx="133.6" cy="497.3" r="1.25"/>
<circle cx="133.6" cy="506.6" r="1.25"/>
<circle cx="134.2" cy="448.7" r="1.25"/>
<circle cx="133.3" cy="457.0" r="1.25"/>
<circle cx="134.3" cy="472.1" r="1.25"/>
<circle cx="133.9" cy="462.8" r="1.25"/>
<circle cx="133.7" cy="468.6" r="1.25"/>
<circle cx="133.5" cy="482.4" r="1.25"/>
<circle cx="133.8" cy="504.4" r="1.25"/>
<circle cx="133.9" cy="506.1" r="1.25"/>
<circle cx="134.1" cy="510.4" r="1.25"/>
<circle cx="133.9" cy="453.3" r="1.25"/>
<circle cx="134.1" cy="508.6" r="1.25"/>
<circle cx="134.2" cy="481.3" r="1.25"/>
<circle cx="134.0" cy="456.6" r="1.25"/>
<circle cx="134.1" cy="481.6" r="1.25"/>
<circle cx="133.4" cy="446.4" r="1.25"/>
<circle cx="134.1" cy="510.3" r="1.25"/>
<circle cx="133.2" cy="497.2" r="1.25"/>
<circle cx="133.6" cy="452.4" r="1.25"/>
<circle cx="133.5" cy="495.0" r="1.25"/>
<circle cx="134.1" cy="445.0" r="1.25"/>
<circle cx="133.8" cy="445.1" r="1.25"/>
<circle cx="134.0" cy="464.8" r="1.25"/>
<circle cx="134.2" cy="509.7" r="1.25"/>
<circle cx="133.7" cy="510.9" r="1.25"/>
<circle cx="133.5" cy="447.3" r="1.25"/>
<circle cx="133.8" cy="444.2" r="1.25"/>
<circle cx="133.3" cy="470.1" r="1.25"/>
<circle cx="133.8" cy="452.8" r="1.25"/>
<circle cx="133.2" cy="501.9" r="1.25"/>
<circle cx="133.5" cy="508.1" r="1.25"/>
<circle cx="134.2" cy="468.1" r="1.25"/>
<circle cx="133.7" cy="477.9" r="1.25"/>
<circle cx="133.9" cy="483.1" r="1.25"/>
<circle cx="133.8" cy="484.8" r="1.25"/>
<circle cx="134.2" cy="477.0" r="1.25"/>
<circle cx="133.6" cy="491.7" r="1.25"/>
<circle cx="133.4" cy="462.8" r="1.25"/>
<circle cx="134.3" cy="478.0" r="1.25"/>
<circle cx="133.8" cy="442.8" r="1.25"/>
<circle cx="133.6" cy="482.0" r="1.25"/>
<circle cx="133.1" cy="484.5" r="1.25"/>
<circle cx="133.9" cy="446.1" r="1.25"/>
<circle cx="133.9" cy="474.2" r="1.25"/>
<circle cx="133.9" cy="466.3" r="1.25"/>
<circle cx="133.9" cy="492.9" r="1.25"/>
<circle cx="133.1" cy="446.2" r="1.25"/>
<circle cx="133.9" cy="508.5" r="1.25"/>
<circle cx="133.4" cy="473.5" r="1.25"/>
<circle cx="133.8" cy="464.1" r="1.25"/>
<circle cx="133.5" cy="463.6" r="1.25"/>
<circle cx="133.5" cy="483.1" r="1.25"/>
<circle cx="133.5" cy="468.0" r="1.25"/>
<circle cx="134.0" cy="443.9" r="1.25"/>
<circle cx="133.8" cy="492.7" r="1.25"/>
<circle cx="133.5" cy="457.4" r="1.25"/>
<circle cx="134.1" cy="458.5" r="1.25"/>
<circle cx="133.3" cy="472.0" r="1.25"/>
<circle cx="133.9" cy="449.0" r="1.25"/>
<circle cx="133.5" cy="465.0" r="1.25"/>
<circle cx="134.1" cy="472.3" r="1.25"/>
<circle cx="134.1" cy="453.7" r="1.25"/>
<circle cx="133.5" cy="486.9" r="1.25"/>
<circle cx="134.2" cy="473.1" r="1.25"/>
<circle cx="133.4" cy="450.3" r="1.25"/>
<circle cx="133.7" cy="455.2" r="1.25"/>
<circle cx="134.1" cy="499.9" r="1.25"/>
<circle cx="133.3" cy="461.2" r="1.25"/>
<circle cx="134.1" cy="486.3" r="1.25"/>
<circle cx="134.1" cy="465.8" r="1.25"/>
<circle cx="133.3" cy="462.1" r="1.25"/>
<circle cx="134.1" cy="460.7" r="1.25"/>
<circle cx="133.5" cy="470.8" r="1.25"/>
<circle cx="133.6" cy="470.3" r="1.25"/>
<circle cx="134.2" cy="452.8" r="1.25"/>
<circle cx="130.5" cy="482.0" r="1.25"/>
<circle cx="136.2" cy="483.5" r="1.25"/>
<circle cx="133.3" cy="482.2" r="1.25"/>
<circle cx="136.5" cy="456.0" r="1.25"/>
<circle cx="135.3" cy="478.1" r="1.25"/>
<circle cx="134.8" cy="466.7" r="1.25"/>
<circle cx="132.4" cy="460.3" r="1.25"/>
<circle cx="132.0" cy="450.5" r="1.25"/>
<circle cx="134.3" cy="458.3" r="1.25"/>
<circle cx="135.8" cy="449.6" r="1.25"/>
<circle cx="136.4" cy="473.0" r="1.25"/>
<circle cx="136.5" cy="480.3" r="1.25"/>
<circle cx="136.3" cy="468.8" r="1.25"/>
<circle cx="130.6" cy="474.8" r="1.25"/>
<circle cx="131.6" cy="458.8" r="1.25"/>
<circle cx="134.8" cy="466.9" r="1.25"/>
<circle cx="135.5" cy="449.0" r="1.25"/>
<circle cx="130.0" cy="453.8" r="1.25"/>
<circle cx="127.5" cy="459.0" r="1.25"/>
<circle cx="130.0" cy="459.0" r="1.25"/>
<circle cx="136.0" cy="458.0" r="1.25"/>
<circle cx="139.0" cy="460.8" r="1.25"/>
<circle cx="127.5" cy="463.8" r="1.25"/>
<circle cx="126.5" cy="465.3" r="1.25"/>
<circle cx="128.5" cy="469.0" r="1.25"/>
<circle cx="126.0" cy="470.8" r="1.25"/>
<circle cx="125.5" cy="470.5" r="1.25"/>
<circle cx="139.5" cy="473.5" r="1.25"/>
<circle cx="138.5" cy="477.0" r="1.25"/>
<circle cx="130.0" cy="477.0" r="1.25"/>
<circle cx="140.5" cy="482.5" r="1.25"/>
<circle cx="130.0" cy="481.5" r="1.25"/>
<circle cx="126.7" cy="485.0" r="1.25"/>
<circle cx="126.7" cy="487.5" r="1.25"/>
<circle cx="135.0" cy="493.0" r="1.25"/>
<circle cx="135.5" cy="497.5" r="1.25"/>
<circle cx="129.0" cy="504.5" r="1.25"/>
<circle cx="135.0" cy="507.0" r="1.25"/>
<circle cx="135.0" cy="509.0" r="1.25"/>
<circle cx="128.5" cy="507.5" r="1.25"/>
<circle cx="130.0" cy="509.0" r="1.25"/>
<circle cx="133.6" cy="512.8" r="1.25"/>
<circle cx="125.5" cy="517.3" r="1.25"/>
<circle cx="132.5" cy="529.0" r="1.25"/>
<circle cx="133.6" cy="563.6" r="1.25"/>
<circle cx="198.5" cy="417.7" r="1.25"/>
<circle cx="194.8" cy="421.0" r="1.25"/>
<circle cx="194.0" cy="451.5" r="1.25"/>
<circle cx="195.0" cy="454.0" r="1.25"/>
<circle cx="194.9" cy="479.6" r="1.25"/>
<circle cx="195.2" cy="465.9" r="1.25"/>
<circle cx="194.7" cy="477.8" r="1.25"/>
<circle cx="195.0" cy="476.0" r="1.25"/>
<circle cx="194.8" cy="462.5" r="1.25"/>
<circle cx="195.0" cy="476.8" r="1.25"/>
<circle cx="194.5" cy="476.2" r="1.25"/>
<circle cx="195.6" cy="476.5" r="1.25"/>
<circle cx="195.5" cy="458.2" r="1.25"/>
<circle cx="195.2" cy="477.8" r="1.25"/>
<circle cx="194.4" cy="464.2" r="1.25"/>
<circle cx="194.7" cy="470.1" r="1.25"/>
<circle cx="194.9" cy="468.9" r="1.25"/>
<circle cx="195.4" cy="458.0" r="1.25"/>
<circle cx="194.4" cy="460.9" r="1.25"/>
<circle cx="194.5" cy="459.6" r="1.25"/>
<circle cx="195.7" cy="477.7" r="1.25"/>
<circle cx="194.4" cy="469.5" r="1.25"/>
<circle cx="194.7" cy="465.2" r="1.25"/>
<circle cx="194.8" cy="472.9" r="1.25"/>
<circle cx="195.1" cy="466.3" r="1.25"/>
<circle cx="194.6" cy="465.6" r="1.25"/>
<circle cx="194.5" cy="470.8" r="1.25"/>
<circle cx="195.3" cy="466.7" r="1.25"/>
<circle cx="194.4" cy="462.1" r="1.25"/>
<circle cx="194.8" cy="471.9" r="1.25"/>
<circle cx="195.4" cy="466.7" r="1.25"/>
<circle cx="195.4" cy="472.3" r="1.25"/>
<circle cx="194.9" cy="466.6" r="1.25"/>
<circle cx="195.0" cy="474.2" r="1.25"/>
<circle cx="194.9" cy="474.0" r="1.25"/>
<circle cx="194.9" cy="463.6" r="1.25"/>
<circle cx="195.1" cy="474.0" r="1.25"/>
<circle cx="194.4" cy="467.8" r="1.25"/>
<circle cx="194.9" cy="478.2" r="1.25"/>
<circle cx="186.5" cy="462.5" r="1.25"/>
<circle cx="190.0" cy="466.5" r="1.25"/>
<circle cx="191.3" cy="470.8" r="1.25"/>
<circle cx="200.7" cy="472.0" r="1.25"/>
<circle cx="189.0" cy="475.8" r="1.25"/>
<circle cx="197.5" cy="476.5" r="1.25"/>
<circle cx="198.0" cy="473.5" r="1.25"/>
<circle cx="194.7" cy="484.0" r="1.25"/>
<circle cx="195.5" cy="486.5" r="1.25"/>
<circle cx="194.5" cy="489.0" r="1.25"/>
<circle cx="193.5" cy="490.5" r="1.25"/>
<circle cx="190.2" cy="491.8" r="1.25"/>
<circle cx="194.7" cy="494.5" r="1.25"/>
<circle cx="194.7" cy="496.5" r="1.25"/>
<circle cx="198.5" cy="494.2" r="1.25"/>
<circle cx="188.0" cy="497.7" r="1.25"/>
<circle cx="194.7" cy="501.0" r="1.25"/>
<circle cx="199.7" cy="503.5" r="1.25"/>
<circle cx="194.0" cy="507.0" r="1.25"/>
<circle cx="194.7" cy="509.0" r="1.25"/>
<circle cx="194.7" cy="517.3" r="1.25"/>
<circle cx="194.7" cy="529.0" r="1.25"/>
<circle cx="189.1" cy="563.8" r="1.25"/>
<circle cx="255.0" cy="432.8" r="1.25"/>
<circle cx="256.3" cy="437.5" r="1.25"/>
<circle cx="263.5" cy="438.5" r="1.25"/>
<circle cx="264.5" cy="443.0" r="1.25"/>
<circle cx="256.5" cy="442.0" r="1.25"/>
<circle cx="255.5" cy="445.5" r="1.25"/>
<circle cx="259.5" cy="446.5" r="1.25"/>
<circle cx="254.0" cy="449.0" r="1.25"/>
<circle cx="257.4" cy="469.0" r="1.25"/>
<circle cx="257.3" cy="485.6" r="1.25"/>
<circle cx="256.3" cy="472.6" r="1.25"/>
<circle cx="256.1" cy="486.5" r="1.25"/>
<circle cx="257.0" cy="489.5" r="1.25"/>
<circle cx="257.2" cy="480.7" r="1.25"/>
<circle cx="257.1" cy="476.6" r="1.25"/>
<circle cx="256.1" cy="477.5" r="1.25"/>
<circle cx="255.9" cy="459.7" r="1.25"/>
<circle cx="257.1" cy="455.8" r="1.25"/>
<circle cx="256.0" cy="458.0" r="1.25"/>
<circle cx="257.3" cy="461.2" r="1.25"/>
<circle cx="255.9" cy="487.7" r="1.25"/>
<circle cx="256.1" cy="487.8" r="1.25"/>
<circle cx="257.0" cy="487.4" r="1.25"/>
<circle cx="257.4" cy="477.2" r="1.25"/>
<circle cx="257.2" cy="455.5" r="1.25"/>
<circle cx="257.1" cy="474.5" r="1.25"/>
<circle cx="257.0" cy="458.3" r="1.25"/>
<circle cx="257.1" cy="491.4" r="1.25"/>
<circle cx="256.0" cy="467.0" r="1.25"/>
<circle cx="256.8" cy="487.1" r="1.25"/>
<circle cx="256.3" cy="461.2" r="1.25"/>
<circle cx="256.3" cy="478.6" r="1.25"/>
<circle cx="257.1" cy="469.7" r="1.25"/>
<circle cx="256.5" cy="469.9" r="1.25"/>
<circle cx="256.5" cy="470.7" r="1.25"/>
<circle cx="256.0" cy="474.0" r="1.25"/>
<circle cx="257.5" cy="470.5" r="1.25"/>
<circle cx="257.1" cy="460.4" r="1.25"/>
<circle cx="257.0" cy="484.2" r="1.25"/>
<circle cx="257.0" cy="474.7" r="1.25"/>
<circle cx="256.7" cy="479.7" r="1.25"/>
<circle cx="257.3" cy="460.0" r="1.25"/>
<circle cx="256.1" cy="483.9" r="1.25"/>
<circle cx="257.4" cy="474.7" r="1.25"/>
<circle cx="256.6" cy="482.8" r="1.25"/>
<circle cx="256.2" cy="464.7" r="1.25"/>
<circle cx="256.2" cy="477.4" r="1.25"/>
<circle cx="256.4" cy="463.3" r="1.25"/>
<circle cx="257.0" cy="492.1" r="1.25"/>
<circle cx="256.4" cy="482.2" r="1.25"/>
<circle cx="256.6" cy="488.1" r="1.25"/>
<circle cx="256.8" cy="464.7" r="1.25"/>
<circle cx="256.2" cy="454.9" r="1.25"/>
<circle cx="256.7" cy="469.3" r="1.25"/>
<circle cx="256.2" cy="468.4" r="1.25"/>
<circle cx="256.4" cy="485.0" r="1.25"/>
<circle cx="256.1" cy="493.6" r="1.25"/>
<circle cx="256.7" cy="478.0" r="1.25"/>
<circle cx="256.6" cy="487.4" r="1.25"/>
<circle cx="257.2" cy="476.3" r="1.25"/>
<circle cx="256.7" cy="482.8" r="1.25"/>
<circle cx="257.3" cy="470.0" r="1.25"/>
<circle cx="249.0" cy="460.5" r="1.25"/>
<circle cx="252.0" cy="459.0" r="1.25"/>
<circle cx="261.0" cy="460.5" r="1.25"/>
<circle cx="261.0" cy="477.0" r="1.25"/>
<circle cx="254.5" cy="468.5" r="1.25"/>
<circle cx="259.0" cy="473.0" r="1.25"/>
<circle cx="254.0" cy="479.5" r="1.25"/>
<circle cx="261.0" cy="481.0" r="1.25"/>
<circle cx="261.5" cy="482.5" r="1.25"/>
<circle cx="258.5" cy="482.0" r="1.25"/>
<circle cx="251.5" cy="487.0" r="1.25"/>
<circle cx="256.5" cy="486.5" r="1.25"/>
<circle cx="249.3" cy="492.7" r="1.25"/>
<circle cx="256.3" cy="492.5" r="1.25"/>
<circle cx="256.3" cy="495.5" r="1.25"/>
<circle cx="256.3" cy="498.5" r="1.25"/>
<circle cx="249.3" cy="504.6" r="1.25"/>
<circle cx="256.3" cy="504.6" r="1.25"/>
<circle cx="257.5" cy="509.3" r="1.25"/>
<circle cx="256.3" cy="512.8" r="1.25"/>
<circle cx="314.2" cy="417.7" r="1.25"/>
<circle cx="320.0" cy="421.0" r="1.25"/>
<circle cx="318.8" cy="454.8" r="1.25"/>
<circle cx="314.0" cy="458.0" r="1.25"/>
<circle cx="316.5" cy="462.0" r="1.25"/>
<circle cx="323.5" cy="465.0" r="1.25"/>
<circle cx="318.4" cy="479.2" r="1.25"/>
<circle cx="318.1" cy="463.8" r="1.25"/>
<circle cx="317.7" cy="474.1" r="1.25"/>
<circle cx="318.3" cy="479.1" r="1.25"/>
<circle cx="318.6" cy="464.1" r="1.25"/>
<circle cx="317.7" cy="464.4" r="1.25"/>
<circle cx="317.7" cy="473.8" r="1.25"/>
<circle cx="318.6" cy="477.9" r="1.25"/>
<circle cx="317.8" cy="477.2" r="1.25"/>
<circle cx="317.8" cy="467.9" r="1.25"/>
<circle cx="318.4" cy="460.8" r="1.25"/>
<circle cx="317.5" cy="476.5" r="1.25"/>
<circle cx="317.8" cy="466.5" r="1.25"/>
<circle cx="318.2" cy="473.2" r="1.25"/>
<circle cx="317.4" cy="466.0" r="1.25"/>
<circle cx="318.0" cy="469.2" r="1.25"/>
<circle cx="317.7" cy="471.3" r="1.25"/>
<circle cx="318.7" cy="467.2" r="1.25"/>
<circle cx="318.2" cy="461.5" r="1.25"/>
<circle cx="317.8" cy="473.0" r="1.25"/>
<circle cx="317.6" cy="477.6" r="1.25"/>
<circle cx="318.7" cy="461.0" r="1.25"/>
<circle cx="318.7" cy="466.9" r="1.25"/>
<circle cx="318.5" cy="474.9" r="1.25"/>
<circle cx="317.8" cy="473.2" r="1.25"/>
<circle cx="318.3" cy="475.9" r="1.25"/>
<circle cx="317.8" cy="474.8" r="1.25"/>
<circle cx="313.5" cy="474.0" r="1.25"/>
<circle cx="313.0" cy="477.0" r="1.25"/>
<circle cx="319.5" cy="477.0" r="1.25"/>
<circle cx="315.0" cy="476.0" r="1.25"/>
<circle cx="313.0" cy="480.0" r="1.25"/>
<circle cx="318.0" cy="478.0" r="1.25"/>
<circle cx="314.0" cy="483.5" r="1.25"/>
<circle cx="318.5" cy="484.0" r="1.25"/>
<circle cx="324.5" cy="486.0" r="1.25"/>
<circle cx="318.5" cy="487.5" r="1.25"/>
<circle cx="318.5" cy="490.0" r="1.25"/>
<circle cx="318.5" cy="492.0" r="1.25"/>
<circle cx="318.8" cy="496.6" r="1.25"/>
<circle cx="315.0" cy="501.0" r="1.25"/>
<circle cx="318.8" cy="503.5" r="1.25"/>
<circle cx="317.5" cy="509.3" r="1.25"/>
<circle cx="318.8" cy="517.3" r="1.25"/>
<circle cx="376.7" cy="453.6" r="1.25"/>
<circle cx="375.5" cy="460.4" r="1.25"/>
<circle cx="379.8" cy="474.5" r="1.25"/>
<circle cx="379.8" cy="478.0" r="1.25"/>
<circle cx="371.8" cy="495.3" r="1.25"/>
<circle cx="380.0" cy="494.0" r="1.25"/>
<circle cx="379.8" cy="507.3" r="1.25"/>
<circle cx="379.8" cy="508.5" r="1.25"/>
<circle cx="379.8" cy="563.5" r="1.25"/>
<circle cx="442.3" cy="435.2" r="1.25"/>
<circle cx="438.0" cy="455.5" r="1.25"/>
<circle cx="441.5" cy="457.0" r="1.25"/>
<circle cx="441.5" cy="458.5" r="1.25"/>
<circle cx="435.5" cy="460.5" r="1.25"/>
<circle cx="442.5" cy="461.8" r="1.25"/>
<circle cx="441.4" cy="465.0" r="1.25"/>
<circle cx="441.4" cy="467.0" r="1.25"/>
<circle cx="441.4" cy="469.0" r="1.25"/>
<circle cx="441.4" cy="471.0" r="1.25"/>
<circle cx="437.5" cy="472.2" r="1.25"/>
<circle cx="441.4" cy="472.0" r="1.25"/>
<circle cx="441.4" cy="476.8" r="1.25"/>
<circle cx="448.2" cy="476.8" r="1.25"/>
<circle cx="436.5" cy="479.2" r="1.25"/>
<circle cx="446.0" cy="485.0" r="1.25"/>
<circle cx="441.4" cy="486.0" r="1.25"/>
<circle cx="441.4" cy="488.0" r="1.25"/>
<circle cx="441.4" cy="490.5" r="1.25"/>
<circle cx="441.4" cy="498.0" r="1.25"/>
<circle cx="435.5" cy="500.0" r="1.25"/>
<circle cx="441.4" cy="502.0" r="1.25"/>
<circle cx="441.4" cy="504.0" r="1.25"/>
<circle cx="441.4" cy="506.0" r="1.25"/>
<line x1="125.7" y1="597.1" x2="140.5" y2="597.1" stroke="#000" stroke-width="2.2" stroke-dasharray="4.3,0.9"/>
<line x1="248" y1="597.1" x2="264.7" y2="597.1" stroke="#000" stroke-width="2.2" stroke-dasharray="4.3,0.9"/>
<line x1="669" y1="97.6" x2="731.9" y2="97.6" stroke="#26a052" stroke-width="1.4"/>
<line x1="732.6" y1="88.4" x2="793.4" y2="88.4" stroke="#26a052" stroke-width="1.4"/>
<line x1="794.4" y1="116.1" x2="855.6" y2="116.1" stroke="#26a052" stroke-width="1.4"/>
<line x1="855.2" y1="84.9" x2="917.4" y2="84.9" stroke="#26a052" stroke-width="1.4"/>
<line x1="916.6" y1="127.8" x2="978.9" y2="127.8" stroke="#26a052" stroke-width="1.4"/>
<line x1="979.2" y1="131.3" x2="1039.5" y2="131.3" stroke="#26a052" stroke-width="1.4"/>
<line x1="696.5" y1="74.5" x2="711.5" y2="74.5" stroke="#5472c0" stroke-width="1.3"/>
<line x1="757.9" y1="69" x2="772.6" y2="69" stroke="#5472c0" stroke-width="1.3"/>
<line x1="819.4" y1="101.3" x2="833.7" y2="101.3" stroke="#5472c0" stroke-width="1.3"/>
<line x1="881.9" y1="66.6" x2="896.2" y2="66.6" stroke="#5472c0" stroke-width="1.3"/>
<line x1="943" y1="116.5" x2="957.7" y2="116.5" stroke="#5472c0" stroke-width="1.3"/>
<line x1="1003.4" y1="124.2" x2="1019.2" y2="124.2" stroke="#5472c0" stroke-width="1.3"/>
<line x1="1004.5" y1="159.1" x2="1019.2" y2="159.1" stroke="#5472c0" stroke-width="1.3"/>
<circle cx="701.4" cy="47.5" r="1.25"/>
<circle cx="700.5" cy="58.0" r="1.25"/>
<circle cx="700.5" cy="73.5" r="1.25"/>
<circle cx="701.4" cy="80.0" r="1.25"/>
<circle cx="701.4" cy="87.0" r="1.25"/>
<circle cx="701.4" cy="91.3" r="1.25"/>
<circle cx="701.5" cy="97.0" r="1.25"/>
<circle cx="698.0" cy="102.0" r="1.25"/>
<circle cx="701.0" cy="103.5" r="1.25"/>
<circle cx="700.0" cy="106.5" r="1.25"/>
<circle cx="701.0" cy="108.0" r="1.25"/>
<circle cx="702.6" cy="139.9" r="1.25"/>
<circle cx="700.6" cy="113.2" r="1.25"/>
<circle cx="702.3" cy="133.3" r="1.25"/>
<circle cx="702.0" cy="120.1" r="1.25"/>
<circle cx="701.8" cy="129.4" r="1.25"/>
<circle cx="701.8" cy="115.5" r="1.25"/>
<circle cx="701.4" cy="122.8" r="1.25"/>
<circle cx="702.1" cy="141.3" r="1.25"/>
<circle cx="702.6" cy="127.4" r="1.25"/>
<circle cx="701.5" cy="118.9" r="1.25"/>
<circle cx="700.6" cy="111.4" r="1.25"/>
<circle cx="701.5" cy="120.4" r="1.25"/>
<circle cx="701.3" cy="138.2" r="1.25"/>
<circle cx="701.7" cy="127.9" r="1.25"/>
<circle cx="701.0" cy="111.3" r="1.25"/>
<circle cx="701.2" cy="114.8" r="1.25"/>
<circle cx="701.6" cy="141.5" r="1.25"/>
<circle cx="702.0" cy="116.2" r="1.25"/>
<circle cx="702.5" cy="135.2" r="1.25"/>
<circle cx="702.1" cy="138.6" r="1.25"/>
<circle cx="702.2" cy="135.0" r="1.25"/>
<circle cx="701.3" cy="140.9" r="1.25"/>
<circle cx="702.6" cy="115.6" r="1.25"/>
<circle cx="702.2" cy="132.7" r="1.25"/>
<circle cx="701.5" cy="127.0" r="1.25"/>
<circle cx="701.6" cy="139.2" r="1.25"/>
<circle cx="701.6" cy="136.3" r="1.25"/>
<circle cx="701.3" cy="137.9" r="1.25"/>
<circle cx="702.5" cy="124.8" r="1.25"/>
<circle cx="701.7" cy="139.0" r="1.25"/>
<circle cx="702.1" cy="125.6" r="1.25"/>
<circle cx="701.0" cy="120.6" r="1.25"/>
<circle cx="702.0" cy="115.7" r="1.25"/>
<circle cx="702.5" cy="118.9" r="1.25"/>
<circle cx="702.5" cy="120.2" r="1.25"/>
<circle cx="702.6" cy="132.4" r="1.25"/>
<circle cx="701.6" cy="126.6" r="1.25"/>
<circle cx="701.9" cy="128.8" r="1.25"/>
<circle cx="701.2" cy="117.0" r="1.25"/>
<circle cx="701.6" cy="139.5" r="1.25"/>
<circle cx="701.9" cy="112.9" r="1.25"/>
<circle cx="702.3" cy="133.0" r="1.25"/>
<circle cx="702.5" cy="116.5" r="1.25"/>
<circle cx="702.1" cy="112.4" r="1.25"/>
<circle cx="701.9" cy="119.0" r="1.25"/>
<circle cx="701.0" cy="137.7" r="1.25"/>
<circle cx="700.7" cy="126.7" r="1.25"/>
<circle cx="702.4" cy="118.2" r="1.25"/>
<circle cx="701.0" cy="137.8" r="1.25"/>
<circle cx="701.4" cy="132.8" r="1.25"/>
<circle cx="700.6" cy="121.8" r="1.25"/>
<circle cx="700.9" cy="131.4" r="1.25"/>
<circle cx="700.7" cy="140.1" r="1.25"/>
<circle cx="700.6" cy="133.1" r="1.25"/>
<circle cx="700.5" cy="118.5" r="1.25"/>
<circle cx="702.3" cy="115.5" r="1.25"/>
<circle cx="700.9" cy="132.0" r="1.25"/>
<circle cx="701.3" cy="111.9" r="1.25"/>
<circle cx="702.7" cy="115.3" r="1.25"/>
<circle cx="700.6" cy="121.2" r="1.25"/>
<circle cx="701.9" cy="133.5" r="1.25"/>
<circle cx="700.7" cy="121.0" r="1.25"/>
<circle cx="700.6" cy="124.5" r="1.25"/>
<circle cx="702.2" cy="133.5" r="1.25"/>
<circle cx="702.5" cy="133.9" r="1.25"/>
<circle cx="703.7" cy="132.0" r="1.25"/>
<circle cx="701.3" cy="119.1" r="1.25"/>
<circle cx="702.5" cy="121.5" r="1.25"/>
<circle cx="699.1" cy="125.1" r="1.25"/>
<circle cx="703.7" cy="116.4" r="1.25"/>
<circle cx="702.0" cy="123.6" r="1.25"/>
<circle cx="701.6" cy="116.9" r="1.25"/>
<circle cx="704.3" cy="120.0" r="1.25"/>
<circle cx="702.1" cy="124.3" r="1.25"/>
<circle cx="698.6" cy="128.1" r="1.25"/>
<circle cx="699.3" cy="114.5" r="1.25"/>
<circle cx="698.7" cy="117.4" r="1.25"/>
<circle cx="699.1" cy="130.1" r="1.25"/>
<circle cx="701.5" cy="139.6" r="1.25"/>
<circle cx="694.5" cy="113.5" r="1.25"/>
<circle cx="697.5" cy="117.0" r="1.25"/>
<circle cx="696.5" cy="118.5" r="1.25"/>
<circle cx="696.0" cy="122.0" r="1.25"/>
<circle cx="697.0" cy="127.0" r="1.25"/>
<circle cx="697.0" cy="131.0" r="1.25"/>
<circle cx="697.5" cy="133.5" r="1.25"/>
<circle cx="696.5" cy="139.0" r="1.25"/>
<circle cx="693.5" cy="143.5" r="1.25"/>
<circle cx="707.3" cy="111.3" r="1.25"/>
<circle cx="706.0" cy="118.5" r="1.25"/>
<circle cx="705.5" cy="121.0" r="1.25"/>
<circle cx="706.0" cy="127.5" r="1.25"/>
<circle cx="706.0" cy="133.5" r="1.25"/>
<circle cx="705.5" cy="138.5" r="1.25"/>
<circle cx="704.5" cy="139.5" r="1.25"/>
<circle cx="700.0" cy="145.0" r="1.25"/>
<circle cx="700.5" cy="147.5" r="1.25"/>
<circle cx="701.5" cy="151.0" r="1.25"/>
<circle cx="702.5" cy="153.5" r="1.25"/>
<circle cx="700.5" cy="156.5" r="1.25"/>
<circle cx="700.5" cy="158.5" r="1.25"/>
<circle cx="707.0" cy="158.5" r="1.25"/>
<circle cx="701.3" cy="170.0" r="1.25"/>
<circle cx="705.0" cy="173.5" r="1.25"/>
<circle cx="763.0" cy="47.6" r="1.25"/>
<circle cx="766.5" cy="58.0" r="1.25"/>
<circle cx="763.0" cy="73.0" r="1.25"/>
<circle cx="763.0" cy="100.3" r="1.25"/>
<circle cx="763.0" cy="107.5" r="1.25"/>
<circle cx="764.0" cy="108.0" r="1.25"/>
<circle cx="763.0" cy="110.0" r="1.25"/>
<circle cx="763.0" cy="112.0" r="1.25"/>
<circle cx="759.5" cy="113.5" r="1.25"/>
<circle cx="762.0" cy="115.0" r="1.25"/>
<circle cx="765.5" cy="117.0" r="1.25"/>
<circle cx="758.2" cy="117.7" r="1.25"/>
<circle cx="762.0" cy="119.5" r="1.25"/>
<circle cx="762.5" cy="121.5" r="1.25"/>
<circle cx="759.5" cy="122.8" r="1.25"/>
<circle cx="769.8" cy="122.8" r="1.25"/>
<circle cx="765.6" cy="139.9" r="1.25"/>
<circle cx="761.4" cy="131.1" r="1.25"/>
<circle cx="761.5" cy="133.5" r="1.25"/>
<circle cx="763.7" cy="136.8" r="1.25"/>
<circle cx="764.3" cy="128.1" r="1.25"/>
<circle cx="762.5" cy="132.4" r="1.25"/>
<circle cx="760.0" cy="124.6" r="1.25"/>
<circle cx="762.5" cy="125.8" r="1.25"/>
<circle cx="764.3" cy="127.9" r="1.25"/>
<circle cx="760.6" cy="126.9" r="1.25"/>
<circle cx="761.4" cy="127.5" r="1.25"/>
<circle cx="763.1" cy="131.4" r="1.25"/>
<circle cx="761.9" cy="134.3" r="1.25"/>
<circle cx="761.3" cy="138.5" r="1.25"/>
<circle cx="765.8" cy="135.7" r="1.25"/>
<circle cx="762.6" cy="132.2" r="1.25"/>
<circle cx="763.5" cy="124.8" r="1.25"/>
<circle cx="762.5" cy="132.4" r="1.25"/>
<circle cx="761.1" cy="125.5" r="1.25"/>
<circle cx="764.8" cy="129.9" r="1.25"/>
<circle cx="763.1" cy="138.7" r="1.25"/>
<circle cx="763.7" cy="128.6" r="1.25"/>
<circle cx="765.9" cy="130.0" r="1.25"/>
<circle cx="760.1" cy="135.0" r="1.25"/>
<circle cx="760.6" cy="128.9" r="1.25"/>
<circle cx="765.0" cy="134.8" r="1.25"/>
<circle cx="760.1" cy="131.2" r="1.25"/>
<circle cx="762.5" cy="131.8" r="1.25"/>
<circle cx="756.0" cy="127.2" r="1.25"/>
<circle cx="768.8" cy="128.5" r="1.25"/>
<circle cx="759.0" cy="129.8" r="1.25"/>
<circle cx="765.5" cy="131.5" r="1.25"/>
<circle cx="755.5" cy="136.5" r="1.25"/>
<circle cx="759.0" cy="135.5" r="1.25"/>
<circle cx="766.5" cy="136.5" r="1.25"/>
<circle cx="760.0" cy="139.0" r="1.25"/>
<circle cx="762.0" cy="139.3" r="1.25"/>
<circle cx="764.0" cy="139.5" r="1.25"/>
<circle cx="769.0" cy="140.0" r="1.25"/>
<circle cx="763.0" cy="143.5" r="1.25"/>
<circle cx="766.5" cy="145.8" r="1.25"/>
<circle cx="763.0" cy="149.2" r="1.25"/>
<circle cx="763.5" cy="154.0" r="1.25"/>
<circle cx="762.5" cy="155.0" r="1.25"/>
<circle cx="763.0" cy="158.5" r="1.25"/>
<circle cx="764.0" cy="170.0" r="1.25"/>
<circle cx="763.0" cy="173.5" r="1.25"/>
<circle cx="819.5" cy="80.0" r="1.25"/>
<circle cx="822.8" cy="87.0" r="1.25"/>
<circle cx="822.8" cy="91.5" r="1.25"/>
<circle cx="824.0" cy="97.2" r="1.25"/>
<circle cx="824.5" cy="103.0" r="1.25"/>
<circle cx="827.5" cy="102.0" r="1.25"/>
<circle cx="825.0" cy="106.5" r="1.25"/>
<circle cx="824.0" cy="111.0" r="1.25"/>
<circle cx="817.5" cy="112.5" r="1.25"/>
<circle cx="818.5" cy="114.5" r="1.25"/>
<circle cx="822.5" cy="114.0" r="1.25"/>
<circle cx="828.5" cy="114.5" r="1.25"/>
<circle cx="823.1" cy="130.1" r="1.25"/>
<circle cx="822.6" cy="122.8" r="1.25"/>
<circle cx="823.6" cy="138.4" r="1.25"/>
<circle cx="822.7" cy="134.1" r="1.25"/>
<circle cx="823.0" cy="129.7" r="1.25"/>
<circle cx="823.7" cy="127.1" r="1.25"/>
<circle cx="824.9" cy="125.5" r="1.25"/>
<circle cx="822.8" cy="118.9" r="1.25"/>
<circle cx="822.7" cy="136.4" r="1.25"/>
<circle cx="824.5" cy="139.0" r="1.25"/>
<circle cx="824.7" cy="116.6" r="1.25"/>
<circle cx="824.6" cy="134.7" r="1.25"/>
<circle cx="824.8" cy="128.0" r="1.25"/>
<circle cx="823.6" cy="127.0" r="1.25"/>
<circle cx="825.0" cy="122.5" r="1.25"/>
<circle cx="824.1" cy="127.5" r="1.25"/>
<circle cx="825.6" cy="135.3" r="1.25"/>
<circle cx="825.5" cy="136.1" r="1.25"/>
<circle cx="823.4" cy="121.6" r="1.25"/>
<circle cx="824.0" cy="122.2" r="1.25"/>
<circle cx="823.8" cy="132.3" r="1.25"/>
<circle cx="825.4" cy="130.1" r="1.25"/>
<circle cx="825.1" cy="118.3" r="1.25"/>
<circle cx="823.6" cy="139.9" r="1.25"/>
<circle cx="822.9" cy="126.0" r="1.25"/>
<circle cx="822.6" cy="118.1" r="1.25"/>
<circle cx="825.4" cy="139.7" r="1.25"/>
<circle cx="824.5" cy="119.1" r="1.25"/>
<circle cx="823.4" cy="121.6" r="1.25"/>
<circle cx="824.6" cy="132.3" r="1.25"/>
<circle cx="823.8" cy="128.6" r="1.25"/>
<circle cx="822.8" cy="129.0" r="1.25"/>
<circle cx="825.5" cy="134.1" r="1.25"/>
<circle cx="822.7" cy="128.4" r="1.25"/>
<circle cx="824.8" cy="122.2" r="1.25"/>
<circle cx="825.4" cy="127.1" r="1.25"/>
<circle cx="824.7" cy="125.7" r="1.25"/>
<circle cx="825.7" cy="134.8" r="1.25"/>
<circle cx="824.3" cy="119.5" r="1.25"/>
<circle cx="823.9" cy="116.7" r="1.25"/>
<circle cx="824.4" cy="137.2" r="1.25"/>
<circle cx="823.0" cy="128.2" r="1.25"/>
<circle cx="824.0" cy="125.7" r="1.25"/>
<circle cx="824.7" cy="138.5" r="1.25"/>
<circle cx="824.7" cy="127.3" r="1.25"/>
<circle cx="825.6" cy="123.9" r="1.25"/>
<circle cx="824.9" cy="131.8" r="1.25"/>
<circle cx="824.9" cy="136.4" r="1.25"/>
<circle cx="823.1" cy="130.9" r="1.25"/>
<circle cx="831.0" cy="119.5" r="1.25"/>
<circle cx="831.5" cy="120.5" r="1.25"/>
<circle cx="816.5" cy="129.8" r="1.25"/>
<circle cx="829.0" cy="129.8" r="1.25"/>
<circle cx="819.5" cy="133.0" r="1.25"/>
<circle cx="820.5" cy="132.0" r="1.25"/>
<circle cx="827.0" cy="133.0" r="1.25"/>
<circle cx="820.0" cy="139.0" r="1.25"/>
<circle cx="821.5" cy="143.5" r="1.25"/>
<circle cx="832.5" cy="142.3" r="1.25"/>
<circle cx="824.0" cy="146.5" r="1.25"/>
<circle cx="826.5" cy="150.5" r="1.25"/>
<circle cx="824.3" cy="158.7" r="1.25"/>
<circle cx="829.0" cy="124.0" r="1.25"/>
<circle cx="819.0" cy="124.0" r="1.25"/>
<circle cx="886.8" cy="47.6" r="1.25"/>
<circle cx="886.8" cy="58.0" r="1.25"/>
<circle cx="888.0" cy="73.0" r="1.25"/>
<circle cx="886.5" cy="107.7" r="1.25"/>
<circle cx="885.5" cy="110.0" r="1.25"/>
<circle cx="886.0" cy="112.5" r="1.25"/>
<circle cx="887.5" cy="114.0" r="1.25"/>
<circle cx="892.5" cy="117.0" r="1.25"/>
<circle cx="885.0" cy="122.5" r="1.25"/>
<circle cx="888.0" cy="121.5" r="1.25"/>
<circle cx="880.0" cy="127.0" r="1.25"/>
<circle cx="886.3" cy="130.0" r="1.25"/>
<circle cx="887.4" cy="129.6" r="1.25"/>
<circle cx="885.6" cy="127.6" r="1.25"/>
<circle cx="886.9" cy="132.6" r="1.25"/>
<circle cx="886.8" cy="131.8" r="1.25"/>
<circle cx="885.6" cy="133.3" r="1.25"/>
<circle cx="886.9" cy="129.3" r="1.25"/>
<circle cx="887.2" cy="132.6" r="1.25"/>
<circle cx="885.8" cy="131.8" r="1.25"/>
<circle cx="887.0" cy="124.4" r="1.25"/>
<circle cx="886.9" cy="129.0" r="1.25"/>
<circle cx="885.9" cy="131.7" r="1.25"/>
<circle cx="885.8" cy="129.3" r="1.25"/>
<circle cx="886.4" cy="125.0" r="1.25"/>
<circle cx="886.6" cy="127.6" r="1.25"/>
<circle cx="886.0" cy="133.6" r="1.25"/>
<circle cx="885.7" cy="122.0" r="1.25"/>
<circle cx="886.5" cy="132.0" r="1.25"/>
<circle cx="884.0" cy="136.0" r="1.25"/>
<circle cx="886.0" cy="138.0" r="1.25"/>
<circle cx="884.0" cy="139.0" r="1.25"/>
<circle cx="881.5" cy="140.0" r="1.25"/>
<circle cx="885.5" cy="144.5" r="1.25"/>
<circle cx="886.5" cy="149.2" r="1.25"/>
<circle cx="886.5" cy="154.5" r="1.25"/>
<circle cx="886.5" cy="158.5" r="1.25"/>
<circle cx="948.1" cy="107.6" r="1.25"/>
<circle cx="948.0" cy="126.0" r="1.25"/>
<circle cx="948.0" cy="128.0" r="1.25"/>
<circle cx="948.0" cy="130.5" r="1.25"/>
<circle cx="947.0" cy="134.0" r="1.25"/>
<circle cx="949.0" cy="134.0" r="1.25"/>
<circle cx="945.5" cy="140.0" r="1.25"/>
<circle cx="947.5" cy="143.5" r="1.25"/>
<circle cx="949.0" cy="146.0" r="1.25"/>
<circle cx="948.0" cy="154.0" r="1.25"/>
<circle cx="947.0" cy="170.2" r="1.25"/>
<circle cx="1009.3" cy="116.8" r="1.25"/>
<circle cx="1015.3" cy="116.8" r="1.25"/>
<circle cx="1009.3" cy="122.5" r="1.25"/>
<circle cx="1004.0" cy="125.0" r="1.25"/>
<circle cx="1009.5" cy="125.5" r="1.25"/>
<circle cx="1011.5" cy="127.0" r="1.25"/>
<circle cx="1009.3" cy="128.5" r="1.25"/>
<circle cx="1010.0" cy="130.0" r="1.25"/>
<circle cx="1008.5" cy="132.0" r="1.25"/>
<circle cx="1010.0" cy="133.5" r="1.25"/>
<circle cx="1011.5" cy="133.5" r="1.25"/>
<circle cx="1008.5" cy="135.0" r="1.25"/>
<circle cx="1007.0" cy="139.5" r="1.25"/>
<circle cx="1009.5" cy="138.5" r="1.25"/>
<circle cx="1013.5" cy="140.0" r="1.25"/>
<circle cx="1009.5" cy="142.0" r="1.25"/>
<circle cx="1009.5" cy="145.0" r="1.25"/>
<circle cx="1009.5" cy="147.5" r="1.25"/>
<circle cx="1008.0" cy="148.5" r="1.25"/>
<circle cx="1010.5" cy="151.0" r="1.25"/>
<circle cx="1009.5" cy="153.0" r="1.25"/>
<circle cx="1009.5" cy="160.0" r="1.25"/>
<line x1="694.6" y1="237.1" x2="708.6" y2="237.1" stroke="#000" stroke-width="2.2" stroke-dasharray="4.3,0.9"/>
<line x1="819.9" y1="237.1" x2="832.1" y2="237.1" stroke="#000" stroke-width="2.2" stroke-dasharray="4.3,0.9"/>
<line x1="669" y1="454.3" x2="731.9" y2="454.3" stroke="#26a052" stroke-width="1.4"/>
<line x1="732.6" y1="445.9" x2="793.4" y2="445.9" stroke="#26a052" stroke-width="1.4"/>
<line x1="794.4" y1="520.2" x2="855.6" y2="520.2" stroke="#26a052" stroke-width="1.4"/>
<line x1="855.2" y1="443.8" x2="917.4" y2="443.8" stroke="#26a052" stroke-width="1.4"/>
<line x1="918.1" y1="480.9" x2="978.9" y2="480.9" stroke="#26a052" stroke-width="1.4"/>
<line x1="979.2" y1="538.8" x2="1039.5" y2="538.8" stroke="#26a052" stroke-width="1.4"/>
<line x1="696.8" y1="435.7" x2="711.7" y2="435.7" stroke="#5472c0" stroke-width="1.3"/>
<line x1="758" y1="432.3" x2="772.9" y2="432.3" stroke="#5472c0" stroke-width="1.3"/>
<line x1="819.4" y1="510.8" x2="834" y2="510.8" stroke="#5472c0" stroke-width="1.3"/>
<line x1="882.2" y1="430" x2="896.6" y2="430" stroke="#5472c0" stroke-width="1.3"/>
<line x1="943.1" y1="471.4" x2="957.8" y2="471.4" stroke="#5472c0" stroke-width="1.3"/>
<line x1="1004.3" y1="531.8" x2="1019.1" y2="531.8" stroke="#5472c0" stroke-width="1.3"/>
<circle cx="701.9" cy="416.6" r="1.25"/>
<circle cx="701.9" cy="421.1" r="1.25"/>
<circle cx="701.9" cy="430.4" r="1.25"/>
<circle cx="701.9" cy="452.3" r="1.25"/>
<circle cx="701.5" cy="456.5" r="1.25"/>
<circle cx="702.0" cy="459.0" r="1.25"/>
<circle cx="703.0" cy="461.0" r="1.25"/>
<circle cx="702.5" cy="464.5" r="1.25"/>
<circle cx="708.5" cy="464.0" r="1.25"/>
<circle cx="701.5" cy="467.0" r="1.25"/>
<circle cx="700.5" cy="469.0" r="1.25"/>
<circle cx="699.0" cy="470.0" r="1.25"/>
<circle cx="694.5" cy="475.5" r="1.25"/>
<circle cx="702.0" cy="474.0" r="1.25"/>
<circle cx="702.0" cy="476.0" r="1.25"/>
<circle cx="701.0" cy="477.5" r="1.25"/>
<circle cx="699.0" cy="478.5" r="1.25"/>
<circle cx="704.0" cy="478.0" r="1.25"/>
<circle cx="700.5" cy="472.5" r="1.25"/>
<circle cx="706.0" cy="478.0" r="1.25"/>
<circle cx="701.6" cy="474.0" r="1.25"/>
<circle cx="701.9" cy="478.1" r="1.25"/>
<circle cx="701.4" cy="497.3" r="1.25"/>
<circle cx="702.6" cy="528.4" r="1.25"/>
<circle cx="702.4" cy="483.3" r="1.25"/>
<circle cx="702.1" cy="487.6" r="1.25"/>
<circle cx="701.5" cy="474.3" r="1.25"/>
<circle cx="701.6" cy="538.3" r="1.25"/>
<circle cx="702.5" cy="528.9" r="1.25"/>
<circle cx="702.4" cy="481.1" r="1.25"/>
<circle cx="701.7" cy="514.9" r="1.25"/>
<circle cx="702.3" cy="532.7" r="1.25"/>
<circle cx="702.5" cy="472.8" r="1.25"/>
<circle cx="702.1" cy="518.4" r="1.25"/>
<circle cx="702.0" cy="479.9" r="1.25"/>
<circle cx="702.0" cy="473.0" r="1.25"/>
<circle cx="702.6" cy="533.5" r="1.25"/>
<circle cx="702.1" cy="489.4" r="1.25"/>
<circle cx="702.6" cy="510.6" r="1.25"/>
<circle cx="702.5" cy="532.1" r="1.25"/>
<circle cx="702.0" cy="498.3" r="1.25"/>
<circle cx="702.1" cy="499.6" r="1.25"/>
<circle cx="701.5" cy="489.8" r="1.25"/>
<circle cx="702.4" cy="469.4" r="1.25"/>
<circle cx="701.4" cy="514.9" r="1.25"/>
<circle cx="701.7" cy="507.7" r="1.25"/>
<circle cx="702.0" cy="492.7" r="1.25"/>
<circle cx="702.7" cy="481.3" r="1.25"/>
<circle cx="701.9" cy="481.8" r="1.25"/>
<circle cx="702.2" cy="487.6" r="1.25"/>
<circle cx="701.8" cy="524.3" r="1.25"/>
<circle cx="701.7" cy="509.6" r="1.25"/>
<circle cx="702.6" cy="473.9" r="1.25"/>
<circle cx="701.4" cy="483.9" r="1.25"/>
<circle cx="702.4" cy="514.0" r="1.25"/>
<circle cx="701.6" cy="491.8" r="1.25"/>
<circle cx="701.5" cy="501.8" r="1.25"/>
<circle cx="701.4" cy="520.4" r="1.25"/>
<circle cx="702.6" cy="540.5" r="1.25"/>
<circle cx="702.3" cy="540.9" r="1.25"/>
<circle cx="701.3" cy="488.5" r="1.25"/>
<circle cx="702.7" cy="526.5" r="1.25"/>
<circle cx="701.9" cy="539.6" r="1.25"/>
<circle cx="702.2" cy="529.8" r="1.25"/>
<circle cx="700.1" cy="479.5" r="1.25"/>
<circle cx="701.1" cy="478.8" r="1.25"/>
<circle cx="700.7" cy="489.5" r="1.25"/>
<circle cx="700.3" cy="477.1" r="1.25"/>
<circle cx="698.3" cy="479.2" r="1.25"/>
<circle cx="703.5" cy="481.7" r="1.25"/>
<circle cx="700.0" cy="478.3" r="1.25"/>
<circle cx="704.9" cy="482.5" r="1.25"/>
<circle cx="699.5" cy="477.8" r="1.25"/>
<circle cx="698.4" cy="479.2" r="1.25"/>
<circle cx="703.1" cy="514.0" r="1.25"/>
<circle cx="698.3" cy="523.2" r="1.25"/>
<circle cx="699.9" cy="536.9" r="1.25"/>
<circle cx="698.9" cy="524.3" r="1.25"/>
<circle cx="703.8" cy="521.1" r="1.25"/>
<circle cx="705.4" cy="522.9" r="1.25"/>
<circle cx="699.8" cy="521.1" r="1.25"/>
<circle cx="698.3" cy="521.4" r="1.25"/>
<circle cx="699.9" cy="534.0" r="1.25"/>
<circle cx="704.2" cy="523.5" r="1.25"/>
<circle cx="698.2" cy="516.9" r="1.25"/>
<circle cx="699.8" cy="515.6" r="1.25"/>
<circle cx="699.7" cy="533.5" r="1.25"/>
<circle cx="699.1" cy="511.4" r="1.25"/>
<circle cx="705.0" cy="525.3" r="1.25"/>
<circle cx="705.4" cy="520.9" r="1.25"/>
<circle cx="704.8" cy="527.7" r="1.25"/>
<circle cx="703.9" cy="530.1" r="1.25"/>
<circle cx="701.7" cy="512.5" r="1.25"/>
<circle cx="699.6" cy="533.6" r="1.25"/>
<circle cx="704.7" cy="535.0" r="1.25"/>
<circle cx="700.5" cy="527.7" r="1.25"/>
<circle cx="694.7" cy="485.0" r="1.25"/>
<circle cx="709.0" cy="483.5" r="1.25"/>
<circle cx="693.5" cy="492.0" r="1.25"/>
<circle cx="709.0" cy="492.0" r="1.25"/>
<circle cx="699.0" cy="491.0" r="1.25"/>
<circle cx="701.0" cy="494.0" r="1.25"/>
<circle cx="702.0" cy="496.0" r="1.25"/>
<circle cx="701.0" cy="499.0" r="1.25"/>
<circle cx="702.0" cy="501.0" r="1.25"/>
<circle cx="701.0" cy="503.0" r="1.25"/>
<circle cx="702.0" cy="506.0" r="1.25"/>
<circle cx="699.0" cy="511.0" r="1.25"/>
<circle cx="701.0" cy="513.0" r="1.25"/>
<circle cx="704.0" cy="514.0" r="1.25"/>
<circle cx="694.5" cy="517.0" r="1.25"/>
<circle cx="694.0" cy="520.5" r="1.25"/>
<circle cx="706.5" cy="520.0" r="1.25"/>
<circle cx="709.0" cy="525.5" r="1.25"/>
<circle cx="705.0" cy="527.0" r="1.25"/>
<circle cx="707.0" cy="532.0" r="1.25"/>
<circle cx="697.0" cy="534.5" r="1.25"/>
<circle cx="701.5" cy="531.0" r="1.25"/>
<circle cx="702.0" cy="533.5" r="1.25"/>
<circle cx="707.5" cy="532.5" r="1.25"/>
<circle cx="696.0" cy="541.5" r="1.25"/>
<circle cx="700.0" cy="541.0" r="1.25"/>
<circle cx="702.5" cy="540.0" r="1.25"/>
<circle cx="706.0" cy="540.5" r="1.25"/>
<circle cx="700.0" cy="543.5" r="1.25"/>
<circle cx="700.5" cy="545.0" r="1.25"/>
<circle cx="697.0" cy="547.5" r="1.25"/>
<circle cx="702.0" cy="548.5" r="1.25"/>
<circle cx="709.0" cy="547.5" r="1.25"/>
<circle cx="707.5" cy="551.0" r="1.25"/>
<circle cx="701.9" cy="561.3" r="1.25"/>
<circle cx="706.4" cy="569.5" r="1.25"/>
<circle cx="763.0" cy="416.6" r="1.25"/>
<circle cx="763.0" cy="421.1" r="1.25"/>
<circle cx="763.0" cy="430.4" r="1.25"/>
<circle cx="763.0" cy="452.3" r="1.25"/>
<circle cx="763.0" cy="457.5" r="1.25"/>
<circle cx="763.0" cy="459.5" r="1.25"/>
<circle cx="759.5" cy="464.0" r="1.25"/>
<circle cx="763.0" cy="464.0" r="1.25"/>
<circle cx="770.0" cy="464.0" r="1.25"/>
<circle cx="755.0" cy="467.5" r="1.25"/>
<circle cx="763.0" cy="466.0" r="1.25"/>
<circle cx="766.0" cy="467.5" r="1.25"/>
<circle cx="763.0" cy="469.5" r="1.25"/>
<circle cx="763.7" cy="487.1" r="1.25"/>
<circle cx="763.8" cy="484.6" r="1.25"/>
<circle cx="763.5" cy="488.1" r="1.25"/>
<circle cx="762.8" cy="493.3" r="1.25"/>
<circle cx="764.0" cy="474.6" r="1.25"/>
<circle cx="764.0" cy="494.2" r="1.25"/>
<circle cx="763.5" cy="474.0" r="1.25"/>
<circle cx="763.9" cy="475.8" r="1.25"/>
<circle cx="764.0" cy="487.7" r="1.25"/>
<circle cx="762.4" cy="476.7" r="1.25"/>
<circle cx="763.4" cy="485.5" r="1.25"/>
<circle cx="763.6" cy="493.4" r="1.25"/>
<circle cx="762.7" cy="473.1" r="1.25"/>
<circle cx="764.0" cy="473.3" r="1.25"/>
<circle cx="763.9" cy="475.5" r="1.25"/>
<circle cx="763.8" cy="490.2" r="1.25"/>
<circle cx="763.9" cy="485.1" r="1.25"/>
<circle cx="763.9" cy="477.4" r="1.25"/>
<circle cx="763.5" cy="480.3" r="1.25"/>
<circle cx="763.9" cy="490.0" r="1.25"/>
<circle cx="763.1" cy="484.6" r="1.25"/>
<circle cx="762.3" cy="473.8" r="1.25"/>
<circle cx="763.4" cy="483.8" r="1.25"/>
<circle cx="763.9" cy="486.4" r="1.25"/>
<circle cx="764.5" cy="473.5" r="1.25"/>
<circle cx="762.0" cy="476.0" r="1.25"/>
<circle cx="767.5" cy="477.5" r="1.25"/>
<circle cx="768.0" cy="482.5" r="1.25"/>
<circle cx="757.0" cy="483.5" r="1.25"/>
<circle cx="761.5" cy="484.5" r="1.25"/>
<circle cx="768.0" cy="483.5" r="1.25"/>
<circle cx="770.0" cy="482.5" r="1.25"/>
<circle cx="756.0" cy="491.8" r="1.25"/>
<circle cx="759.0" cy="491.8" r="1.25"/>
<circle cx="762.5" cy="492.0" r="1.25"/>
<circle cx="765.5" cy="491.5" r="1.25"/>
<circle cx="764.5" cy="493.0" r="1.25"/>
<circle cx="762.5" cy="494.5" r="1.25"/>
<circle cx="762.0" cy="496.0" r="1.25"/>
<circle cx="763.0" cy="498.8" r="1.25"/>
<circle cx="770.0" cy="504.0" r="1.25"/>
<circle cx="763.0" cy="510.5" r="1.25"/>
<circle cx="763.0" cy="514.0" r="1.25"/>
<circle cx="763.0" cy="542.9" r="1.25"/>
<circle cx="770.0" cy="550.9" r="1.25"/>
<circle cx="763.0" cy="569.5" r="1.25"/>
<circle cx="824.4" cy="498.5" r="1.25"/>
<circle cx="819.5" cy="502.0" r="1.25"/>
<circle cx="826.0" cy="502.5" r="1.25"/>
<circle cx="831.5" cy="504.5" r="1.25"/>
<circle cx="824.4" cy="506.8" r="1.25"/>
<circle cx="824.0" cy="524.4" r="1.25"/>
<circle cx="825.0" cy="530.1" r="1.25"/>
<circle cx="823.8" cy="541.2" r="1.25"/>
<circle cx="825.1" cy="514.5" r="1.25"/>
<circle cx="824.7" cy="525.0" r="1.25"/>
<circle cx="825.1" cy="522.5" r="1.25"/>
<circle cx="824.2" cy="528.8" r="1.25"/>
<circle cx="825.3" cy="514.9" r="1.25"/>
<circle cx="824.0" cy="533.5" r="1.25"/>
<circle cx="825.2" cy="529.7" r="1.25"/>
<circle cx="824.5" cy="542.0" r="1.25"/>
<circle cx="825.0" cy="513.9" r="1.25"/>
<circle cx="825.2" cy="518.5" r="1.25"/>
<circle cx="824.3" cy="541.2" r="1.25"/>
<circle cx="824.5" cy="539.8" r="1.25"/>
<circle cx="824.1" cy="542.5" r="1.25"/>
<circle cx="824.1" cy="516.8" r="1.25"/>
<circle cx="824.6" cy="523.5" r="1.25"/>
<circle cx="824.7" cy="543.6" r="1.25"/>
<circle cx="824.9" cy="511.7" r="1.25"/>
<circle cx="824.3" cy="530.8" r="1.25"/>
<circle cx="824.6" cy="536.9" r="1.25"/>
<circle cx="824.6" cy="514.2" r="1.25"/>
<circle cx="824.2" cy="541.6" r="1.25"/>
<circle cx="824.4" cy="538.7" r="1.25"/>
<circle cx="825.4" cy="533.7" r="1.25"/>
<circle cx="824.9" cy="533.1" r="1.25"/>
<circle cx="824.3" cy="543.9" r="1.25"/>
<circle cx="824.5" cy="543.9" r="1.25"/>
<circle cx="824.3" cy="542.3" r="1.25"/>
<circle cx="825.1" cy="533.3" r="1.25"/>
<circle cx="824.5" cy="516.5" r="1.25"/>
<circle cx="825.0" cy="524.4" r="1.25"/>
<circle cx="824.9" cy="516.2" r="1.25"/>
<circle cx="823.9" cy="516.6" r="1.25"/>
<circle cx="825.1" cy="517.8" r="1.25"/>
<circle cx="825.2" cy="524.7" r="1.25"/>
<circle cx="824.7" cy="523.9" r="1.25"/>
<circle cx="824.8" cy="514.8" r="1.25"/>
<circle cx="824.4" cy="544.7" r="1.25"/>
<circle cx="824.1" cy="534.7" r="1.25"/>
<circle cx="824.3" cy="522.2" r="1.25"/>
<circle cx="823.8" cy="512.2" r="1.25"/>
<circle cx="825.3" cy="541.0" r="1.25"/>
<circle cx="825.1" cy="540.2" r="1.25"/>
<circle cx="825.3" cy="517.1" r="1.25"/>
<circle cx="824.7" cy="529.1" r="1.25"/>
<circle cx="824.7" cy="544.8" r="1.25"/>
<circle cx="825.0" cy="545.9" r="1.25"/>
<circle cx="824.0" cy="534.6" r="1.25"/>
<circle cx="824.9" cy="538.0" r="1.25"/>
<circle cx="824.8" cy="541.0" r="1.25"/>
<circle cx="824.3" cy="544.4" r="1.25"/>
<circle cx="824.4" cy="532.8" r="1.25"/>
<circle cx="825.2" cy="536.5" r="1.25"/>
<circle cx="824.3" cy="519.7" r="1.25"/>
<circle cx="829.0" cy="513.0" r="1.25"/>
<circle cx="829.0" cy="516.0" r="1.25"/>
<circle cx="829.0" cy="519.0" r="1.25"/>
<circle cx="828.5" cy="521.0" r="1.25"/>
<circle cx="831.0" cy="524.0" r="1.25"/>
<circle cx="832.5" cy="523.0" r="1.25"/>
<circle cx="818.5" cy="525.5" r="1.25"/>
<circle cx="827.5" cy="526.5" r="1.25"/>
<circle cx="826.0" cy="527.0" r="1.25"/>
<circle cx="822.0" cy="532.0" r="1.25"/>
<circle cx="826.0" cy="534.0" r="1.25"/>
<circle cx="821.5" cy="535.0" r="1.25"/>
<circle cx="826.0" cy="536.0" r="1.25"/>
<circle cx="823.0" cy="539.0" r="1.25"/>
<circle cx="828.5" cy="541.0" r="1.25"/>
<circle cx="825.0" cy="543.0" r="1.25"/>
<circle cx="826.0" cy="545.0" r="1.25"/>
<circle cx="831.0" cy="546.0" r="1.25"/>
<circle cx="823.5" cy="547.8" r="1.25"/>
<circle cx="827.5" cy="542.0" r="1.25"/>
<circle cx="831.3" cy="546.3" r="1.25"/>
<circle cx="824.3" cy="548.5" r="1.25"/>
<circle cx="824.3" cy="561.5" r="1.25"/>
<circle cx="887.0" cy="416.6" r="1.25"/>
<circle cx="887.0" cy="421.1" r="1.25"/>
<circle cx="884.5" cy="430.4" r="1.25"/>
<circle cx="885.8" cy="457.2" r="1.25"/>
<circle cx="878.5" cy="459.5" r="1.25"/>
<circle cx="887.0" cy="460.8" r="1.25"/>
<circle cx="884.0" cy="464.0" r="1.25"/>
<circle cx="886.5" cy="464.0" r="1.25"/>
<circle cx="889.0" cy="464.5" r="1.25"/>
<circle cx="894.0" cy="466.5" r="1.25"/>
<circle cx="886.5" cy="478.0" r="1.25"/>
<circle cx="887.7" cy="482.4" r="1.25"/>
<circle cx="886.6" cy="474.4" r="1.25"/>
<circle cx="887.4" cy="472.5" r="1.25"/>
<circle cx="886.6" cy="468.2" r="1.25"/>
<circle cx="886.2" cy="476.6" r="1.25"/>
<circle cx="887.1" cy="477.8" r="1.25"/>
<circle cx="886.6" cy="483.2" r="1.25"/>
<circle cx="887.0" cy="470.5" r="1.25"/>
<circle cx="886.0" cy="483.6" r="1.25"/>
<circle cx="887.7" cy="482.7" r="1.25"/>
<circle cx="887.0" cy="473.0" r="1.25"/>
<circle cx="886.1" cy="472.1" r="1.25"/>
<circle cx="886.3" cy="482.9" r="1.25"/>
<circle cx="887.5" cy="480.4" r="1.25"/>
<circle cx="886.2" cy="471.8" r="1.25"/>
<circle cx="886.4" cy="483.2" r="1.25"/>
<circle cx="886.2" cy="480.6" r="1.25"/>
<circle cx="886.8" cy="467.0" r="1.25"/>
<circle cx="886.8" cy="469.5" r="1.25"/>
<circle cx="893.5" cy="466.5" r="1.25"/>
<circle cx="886.0" cy="474.0" r="1.25"/>
<circle cx="885.0" cy="476.0" r="1.25"/>
<circle cx="888.0" cy="477.0" r="1.25"/>
<circle cx="893.0" cy="478.0" r="1.25"/>
<circle cx="883.0" cy="479.5" r="1.25"/>
<circle cx="885.0" cy="481.0" r="1.25"/>
<circle cx="887.0" cy="480.0" r="1.25"/>
<circle cx="887.0" cy="483.0" r="1.25"/>
<circle cx="885.5" cy="485.0" r="1.25"/>
<circle cx="879.0" cy="482.0" r="1.25"/>
<circle cx="879.0" cy="484.0" r="1.25"/>
<circle cx="881.5" cy="481.0" r="1.25"/>
<circle cx="891.0" cy="486.0" r="1.25"/>
<circle cx="890.0" cy="485.0" r="1.25"/>
<circle cx="886.8" cy="488.0" r="1.25"/>
<circle cx="883.0" cy="492.0" r="1.25"/>
<circle cx="886.0" cy="492.5" r="1.25"/>
<circle cx="887.5" cy="494.0" r="1.25"/>
<circle cx="885.0" cy="495.5" r="1.25"/>
<circle cx="884.0" cy="498.5" r="1.25"/>
<circle cx="887.0" cy="498.5" r="1.25"/>
<circle cx="886.8" cy="503.6" r="1.25"/>
<circle cx="886.8" cy="514.0" r="1.25"/>
<circle cx="948.0" cy="464.2" r="1.25"/>
<circle cx="944.0" cy="481.5" r="1.25"/>
<circle cx="948.5" cy="480.0" r="1.25"/>
<circle cx="947.0" cy="483.0" r="1.25"/>
<circle cx="948.5" cy="482.0" r="1.25"/>
<circle cx="941.2" cy="492.0" r="1.25"/>
<circle cx="948.0" cy="495.5" r="1.25"/>
<circle cx="948.0" cy="504.5" r="1.25"/>
<circle cx="941.2" cy="510.3" r="1.25"/>
<circle cx="950.3" cy="542.7" r="1.25"/>
<circle cx="948.0" cy="569.6" r="1.25"/>
<circle cx="1009.5" cy="522.0" r="1.25"/>
<circle cx="1008.5" cy="530.0" r="1.25"/>
<circle cx="1006.5" cy="535.0" r="1.25"/>
<circle cx="1018.0" cy="535.0" r="1.25"/>
<circle cx="1009.0" cy="534.0" r="1.25"/>
<circle cx="1009.5" cy="537.0" r="1.25"/>
<circle cx="1015.0" cy="539.5" r="1.25"/>
<circle cx="1010.2" cy="545.3" r="1.25"/>
<circle cx="1010.9" cy="540.5" r="1.25"/>
<circle cx="1009.8" cy="538.7" r="1.25"/>
<circle cx="1008.7" cy="536.5" r="1.25"/>
<circle cx="1009.3" cy="538.1" r="1.25"/>
<circle cx="1008.7" cy="552.9" r="1.25"/>
<circle cx="1009.2" cy="551.1" r="1.25"/>
<circle cx="1010.3" cy="548.4" r="1.25"/>
<circle cx="1010.1" cy="552.2" r="1.25"/>
<circle cx="1010.7" cy="548.2" r="1.25"/>
<circle cx="1009.9" cy="547.8" r="1.25"/>
<circle cx="1010.3" cy="545.4" r="1.25"/>
<circle cx="1003.5" cy="549.8" r="1.25"/>
<circle cx="1006.5" cy="554.5" r="1.25"/>
<circle cx="1008.5" cy="553.0" r="1.25"/>
<circle cx="1009.5" cy="568.5" r="1.25"/>
<circle cx="1010.5" cy="602.0" r="1.25"/>
<line x1="698.5" y1="601.7" x2="709" y2="601.7" stroke="#000" stroke-width="2.2" stroke-dasharray="4.3,0.9"/>
<line x1="817.6" y1="602.1" x2="831.3" y2="602.1" stroke="#000" stroke-width="2.2" stroke-dasharray="4.3,0.9"/>
</svg>
</body></html>
